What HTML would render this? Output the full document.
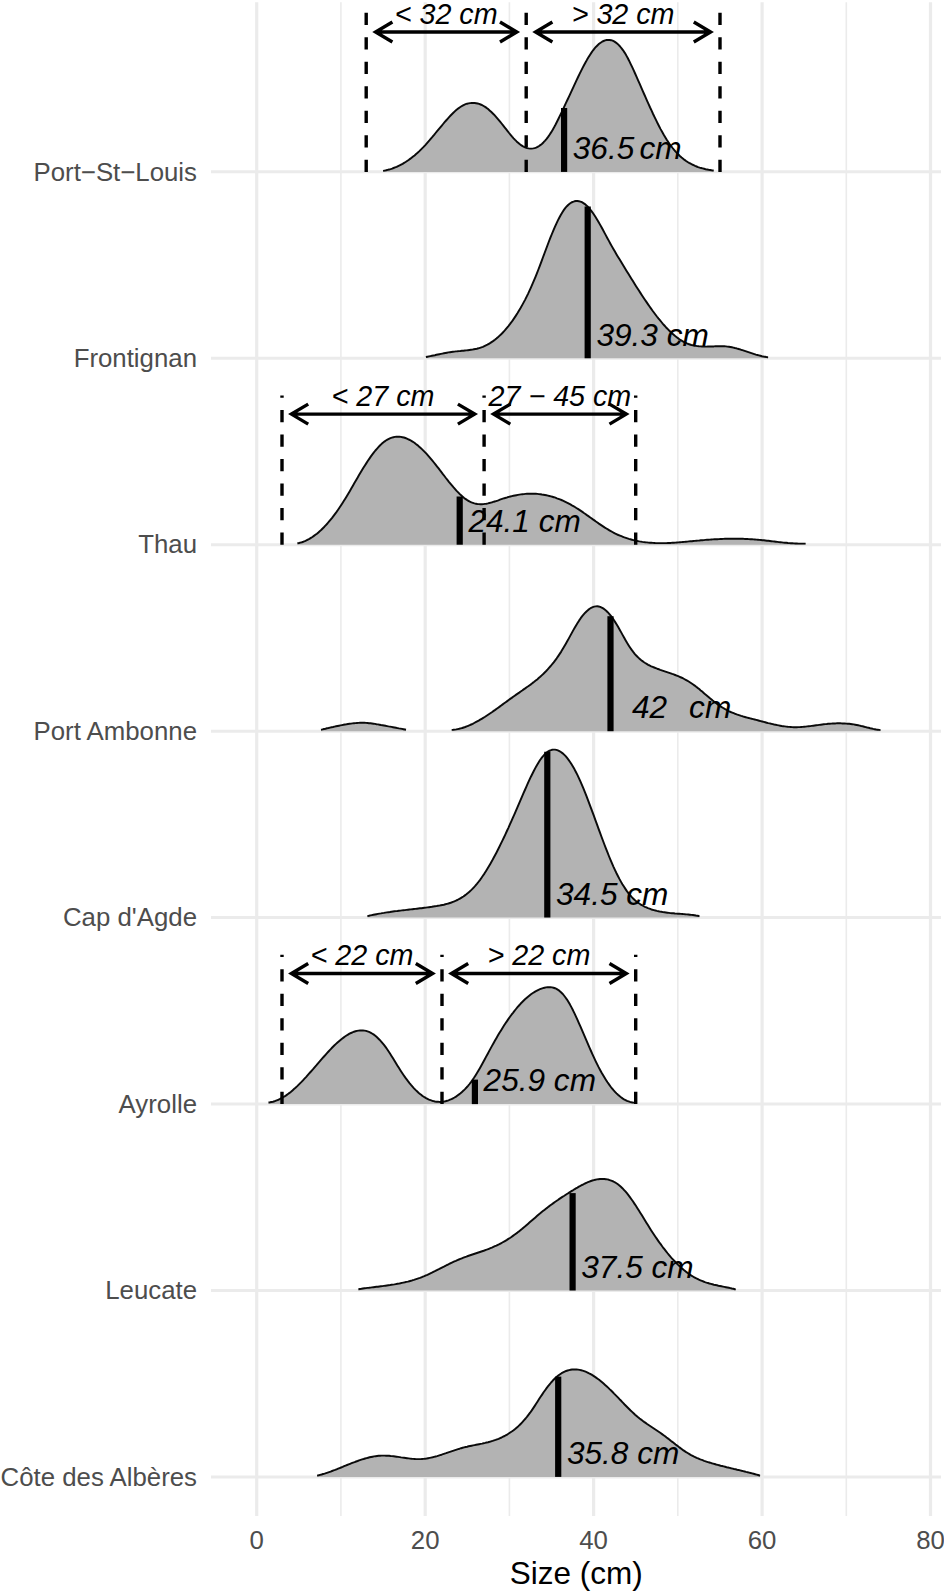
<!DOCTYPE html>
<html lang="en"><head><meta charset="utf-8"><title>Size distribution by site</title>
<style>html,body{margin:0;padding:0;background:#fff;overflow:hidden}svg{display:block}text{font-family:"Liberation Sans",sans-serif;white-space:pre}.ax{fill:#4d4d4d;font-size:25.8px}.it{font-style:italic;fill:#000}.lb{font-size:31.6px}.an{font-size:28.7px}</style></head><body>
<svg width="944" height="1595" viewBox="0 0 944 1595">
<rect width="944" height="1595" fill="#fff"/>
<g><line x1="340.9" x2="340.9" y1="2.2" y2="1516" stroke="#ebebeb" stroke-width="1.6"/><line x1="509.4" x2="509.4" y1="2.2" y2="1516" stroke="#ebebeb" stroke-width="1.6"/><line x1="677.8" x2="677.8" y1="2.2" y2="1516" stroke="#ebebeb" stroke-width="1.6"/><line x1="846.3" x2="846.3" y1="2.2" y2="1516" stroke="#ebebeb" stroke-width="1.6"/><line x1="256.7" x2="256.7" y1="2.2" y2="1516" stroke="#ebebeb" stroke-width="3.2"/><line x1="425.2" x2="425.2" y1="2.2" y2="1516" stroke="#ebebeb" stroke-width="3.2"/><line x1="593.6" x2="593.6" y1="2.2" y2="1516" stroke="#ebebeb" stroke-width="3.2"/><line x1="762.1" x2="762.1" y1="2.2" y2="1516" stroke="#ebebeb" stroke-width="3.2"/><line x1="930.5" x2="930.5" y1="2.2" y2="1516" stroke="#ebebeb" stroke-width="3.2"/><line x1="211" x2="941" y1="171.86" y2="171.86" stroke="#ebebeb" stroke-width="3"/><line x1="211" x2="941" y1="358.3" y2="358.3" stroke="#ebebeb" stroke-width="3"/><line x1="211" x2="941" y1="544.74" y2="544.74" stroke="#ebebeb" stroke-width="3"/><line x1="211" x2="941" y1="731.18" y2="731.18" stroke="#ebebeb" stroke-width="3"/><line x1="211" x2="941" y1="917.62" y2="917.62" stroke="#ebebeb" stroke-width="3"/><line x1="211" x2="941" y1="1104.06" y2="1104.06" stroke="#ebebeb" stroke-width="3"/><line x1="211" x2="941" y1="1290.5" y2="1290.5" stroke="#ebebeb" stroke-width="3"/><line x1="211" x2="941" y1="1476.94" y2="1476.94" stroke="#ebebeb" stroke-width="3"/></g>
<path d="M383.1 171.9L383.1 170.9L384.6 170.6L386.1 170.3L387.6 169.9L389.1 169.5L390.6 169.1L392.1 168.6L393.6 168.0L395.1 167.4L396.6 166.8L398.1 166.1L399.6 165.4L401.1 164.6L402.6 163.8L404.1 162.9L405.6 162.0L407.1 161.0L408.6 160.0L410.1 158.9L411.6 157.8L413.1 156.6L414.6 155.4L416.1 154.1L417.6 152.8L419.1 151.4L420.6 149.9L422.1 148.4L423.6 146.9L425.1 145.3L426.6 143.6L428.1 141.9L429.6 140.2L431.1 138.4L432.6 136.7L434.1 134.9L435.6 133.0L437.1 131.2L438.6 129.4L440.1 127.6L441.6 125.8L443.1 124.0L444.6 122.2L446.1 120.5L447.6 118.8L449.1 117.1L450.6 115.5L452.1 114.0L453.6 112.5L455.1 111.1L456.6 109.8L458.1 108.6L459.6 107.5L461.1 106.5L462.6 105.6L464.1 104.8L465.6 104.2L467.1 103.7L468.6 103.4L470.1 103.1L471.6 103.0L473.1 102.9L474.6 103.0L476.1 103.2L477.6 103.5L479.1 103.9L480.6 104.5L482.1 105.2L483.6 106.0L485.1 106.9L486.6 107.9L488.1 109.1L489.6 110.4L491.1 111.7L492.6 113.2L494.1 114.7L495.6 116.4L497.1 118.1L498.6 119.8L500.1 121.6L501.6 123.5L503.1 125.4L504.6 127.3L506.1 129.2L507.6 131.1L509.1 133.0L510.6 134.8L512.1 136.6L513.6 138.3L515.1 139.9L516.6 141.4L518.1 142.7L519.6 144.0L521.1 145.1L522.6 146.1L524.1 146.9L525.6 147.6L527.1 148.1L528.6 148.4L530.1 148.6L531.6 148.6L533.1 148.4L534.6 148.1L536.1 147.6L537.6 146.9L539.1 146.0L540.6 144.9L542.1 143.7L543.6 142.2L545.1 140.6L546.6 138.9L548.1 136.9L549.6 134.7L551.1 132.4L552.6 129.9L554.1 127.3L555.6 124.5L557.1 121.5L558.6 118.5L560.1 115.4L561.6 112.3L563.1 109.1L564.6 105.9L566.1 102.7L567.6 99.5L569.1 96.3L570.6 93.1L572.1 89.8L573.6 86.6L575.1 83.4L576.6 80.2L578.1 77.0L579.6 73.9L581.1 70.9L582.6 67.9L584.1 65.0L585.6 62.3L587.1 59.6L588.6 57.1L590.1 54.7L591.6 52.4L593.1 50.3L594.6 48.4L596.1 46.7L597.6 45.2L599.1 43.8L600.6 42.7L602.1 41.7L603.6 41.0L605.1 40.4L606.6 40.0L608.1 39.9L609.6 40.0L611.1 40.2L612.6 40.7L614.1 41.4L615.6 42.4L617.1 43.5L618.6 44.9L620.1 46.5L621.6 48.3L623.1 50.3L624.6 52.6L626.1 55.1L627.6 57.8L629.1 60.7L630.6 63.8L632.1 66.9L633.6 70.2L635.1 73.5L636.6 76.9L638.1 80.3L639.6 83.7L641.1 87.1L642.6 90.6L644.1 94.0L645.6 97.4L647.1 100.8L648.6 104.1L650.1 107.5L651.6 110.7L653.1 114.0L654.6 117.1L656.1 120.2L657.6 123.3L659.1 126.2L660.6 129.1L662.1 131.8L663.6 134.5L665.1 137.0L666.6 139.5L668.1 141.8L669.6 144.0L671.1 146.0L672.6 148.0L674.1 149.8L675.6 151.6L677.1 153.2L678.6 154.7L680.1 156.2L681.6 157.5L683.1 158.7L684.6 159.9L686.1 161.0L687.6 162.0L689.1 162.9L690.6 163.7L692.1 164.5L693.6 165.2L695.1 165.9L696.6 166.5L698.1 167.1L699.6 167.6L701.1 168.0L702.6 168.4L704.1 168.8L705.6 169.2L707.1 169.5L708.6 169.8L710.1 170.0L711.6 170.3L713.1 170.5L713.7 170.6L713.7 171.9Z" fill="#b3b3b3"/>
<path d="M383.1 170.9L384.6 170.6L386.1 170.3L387.6 169.9L389.1 169.5L390.6 169.1L392.1 168.6L393.6 168.0L395.1 167.4L396.6 166.8L398.1 166.1L399.6 165.4L401.1 164.6L402.6 163.8L404.1 162.9L405.6 162.0L407.1 161.0L408.6 160.0L410.1 158.9L411.6 157.8L413.1 156.6L414.6 155.4L416.1 154.1L417.6 152.8L419.1 151.4L420.6 149.9L422.1 148.4L423.6 146.9L425.1 145.3L426.6 143.6L428.1 141.9L429.6 140.2L431.1 138.4L432.6 136.7L434.1 134.9L435.6 133.0L437.1 131.2L438.6 129.4L440.1 127.6L441.6 125.8L443.1 124.0L444.6 122.2L446.1 120.5L447.6 118.8L449.1 117.1L450.6 115.5L452.1 114.0L453.6 112.5L455.1 111.1L456.6 109.8L458.1 108.6L459.6 107.5L461.1 106.5L462.6 105.6L464.1 104.8L465.6 104.2L467.1 103.7L468.6 103.4L470.1 103.1L471.6 103.0L473.1 102.9L474.6 103.0L476.1 103.2L477.6 103.5L479.1 103.9L480.6 104.5L482.1 105.2L483.6 106.0L485.1 106.9L486.6 107.9L488.1 109.1L489.6 110.4L491.1 111.7L492.6 113.2L494.1 114.7L495.6 116.4L497.1 118.1L498.6 119.8L500.1 121.6L501.6 123.5L503.1 125.4L504.6 127.3L506.1 129.2L507.6 131.1L509.1 133.0L510.6 134.8L512.1 136.6L513.6 138.3L515.1 139.9L516.6 141.4L518.1 142.7L519.6 144.0L521.1 145.1L522.6 146.1L524.1 146.9L525.6 147.6L527.1 148.1L528.6 148.4L530.1 148.6L531.6 148.6L533.1 148.4L534.6 148.1L536.1 147.6L537.6 146.9L539.1 146.0L540.6 144.9L542.1 143.7L543.6 142.2L545.1 140.6L546.6 138.9L548.1 136.9L549.6 134.7L551.1 132.4L552.6 129.9L554.1 127.3L555.6 124.5L557.1 121.5L558.6 118.5L560.1 115.4L561.6 112.3L563.1 109.1L564.6 105.9L566.1 102.7L567.6 99.5L569.1 96.3L570.6 93.1L572.1 89.8L573.6 86.6L575.1 83.4L576.6 80.2L578.1 77.0L579.6 73.9L581.1 70.9L582.6 67.9L584.1 65.0L585.6 62.3L587.1 59.6L588.6 57.1L590.1 54.7L591.6 52.4L593.1 50.3L594.6 48.4L596.1 46.7L597.6 45.2L599.1 43.8L600.6 42.7L602.1 41.7L603.6 41.0L605.1 40.4L606.6 40.0L608.1 39.9L609.6 40.0L611.1 40.2L612.6 40.7L614.1 41.4L615.6 42.4L617.1 43.5L618.6 44.9L620.1 46.5L621.6 48.3L623.1 50.3L624.6 52.6L626.1 55.1L627.6 57.8L629.1 60.7L630.6 63.8L632.1 66.9L633.6 70.2L635.1 73.5L636.6 76.9L638.1 80.3L639.6 83.7L641.1 87.1L642.6 90.6L644.1 94.0L645.6 97.4L647.1 100.8L648.6 104.1L650.1 107.5L651.6 110.7L653.1 114.0L654.6 117.1L656.1 120.2L657.6 123.3L659.1 126.2L660.6 129.1L662.1 131.8L663.6 134.5L665.1 137.0L666.6 139.5L668.1 141.8L669.6 144.0L671.1 146.0L672.6 148.0L674.1 149.8L675.6 151.6L677.1 153.2L678.6 154.7L680.1 156.2L681.6 157.5L683.1 158.7L684.6 159.9L686.1 161.0L687.6 162.0L689.1 162.9L690.6 163.7L692.1 164.5L693.6 165.2L695.1 165.9L696.6 166.5L698.1 167.1L699.6 167.6L701.1 168.0L702.6 168.4L704.1 168.8L705.6 169.2L707.1 169.5L708.6 169.8L710.1 170.0L711.6 170.3L713.1 170.5L713.7 170.6" fill="none" stroke="#0a0a0a" stroke-width="1.95" stroke-linejoin="round"/>
<line x1="564.1" x2="564.1" y1="108.0" y2="171.9" stroke="#000" stroke-width="6.2"/>
<text class="it lb" x="572.8" y="159.1" xml:space="preserve">36.5 <tspan dx="-3.7">cm</tspan></text>
<line x1="366.2" x2="366.2" y1="171.9" y2="12.7" stroke="#000" stroke-width="3.4" stroke-dasharray="12.25 12.25"/>
<line x1="526.2" x2="526.2" y1="171.9" y2="12.7" stroke="#000" stroke-width="3.4" stroke-dasharray="12.25 12.25"/>
<line x1="720.0" x2="720.0" y1="171.9" y2="12.7" stroke="#000" stroke-width="3.4" stroke-dasharray="12.25 12.25"/>
<path d="M392.4 22.0L375.6 32.0L392.4 42.0M375.6 32.0L516.8 32.0M500.0 22.0L516.8 32.0L500.0 42.0" fill="none" stroke="#000" stroke-width="3.4" stroke-linejoin="miter" stroke-miterlimit="10"/>
<text class="it an" x="446.2" y="23.8" text-anchor="middle">&lt; 32 cm</text>
<path d="M552.4 22.0L535.6 32.0L552.4 42.0M535.6 32.0L710.6 32.0M693.8 22.0L710.6 32.0L693.8 42.0" fill="none" stroke="#000" stroke-width="3.4" stroke-linejoin="miter" stroke-miterlimit="10"/>
<text class="it an" x="623.1" y="23.8" text-anchor="middle">&gt; 32 cm</text>
<path d="M425.9 358.3L425.9 357.0L427.4 356.7L428.9 356.4L430.4 356.1L431.9 355.8L433.4 355.5L434.9 355.2L436.4 354.8L437.9 354.5L439.4 354.2L440.9 353.9L442.4 353.6L443.9 353.3L445.4 353.0L446.9 352.7L448.4 352.4L449.9 352.2L451.4 352.0L452.9 351.8L454.4 351.6L455.9 351.4L457.4 351.3L458.9 351.1L460.4 351.0L461.9 350.8L463.4 350.7L464.9 350.5L466.4 350.4L467.9 350.2L469.4 350.0L470.9 349.8L472.4 349.6L473.9 349.3L475.4 349.0L476.9 348.7L478.4 348.3L479.9 347.8L481.4 347.3L482.9 346.8L484.4 346.1L485.9 345.4L487.4 344.7L488.9 343.8L490.4 342.9L491.9 341.9L493.4 340.9L494.9 339.8L496.4 338.6L497.9 337.3L499.4 335.9L500.9 334.5L502.4 333.0L503.9 331.4L505.4 329.7L506.9 327.9L508.4 326.1L509.9 324.2L511.4 322.2L512.9 320.1L514.4 317.9L515.9 315.6L517.4 313.3L518.9 310.8L520.4 308.3L521.9 305.6L523.4 302.9L524.9 300.1L526.4 297.1L527.9 294.1L529.4 290.9L530.9 287.6L532.4 284.2L533.9 280.7L535.4 277.1L536.9 273.4L538.4 269.5L539.9 265.6L541.4 261.6L542.9 257.5L544.4 253.5L545.9 249.5L547.4 245.5L548.9 241.5L550.4 237.7L551.9 234.0L553.4 230.4L554.9 226.9L556.4 223.6L557.9 220.4L559.4 217.5L560.9 214.7L562.4 212.2L563.9 209.9L565.4 207.9L566.9 206.2L568.4 204.7L569.9 203.5L571.4 202.5L572.9 201.8L574.4 201.3L575.9 201.0L577.4 201.0L578.9 201.2L580.4 201.6L581.9 202.2L583.4 203.1L584.9 204.1L586.4 205.4L587.9 206.8L589.4 208.5L590.9 210.3L592.4 212.3L593.9 214.5L595.4 216.8L596.9 219.2L598.4 221.7L599.9 224.4L601.4 227.0L602.9 229.8L604.4 232.6L605.9 235.4L607.4 238.2L608.9 240.9L610.4 243.7L611.9 246.4L613.4 249.0L614.9 251.6L616.4 254.2L617.9 256.7L619.4 259.1L620.9 261.6L622.4 264.0L623.9 266.5L625.4 268.9L626.9 271.4L628.4 273.8L629.9 276.3L631.4 278.7L632.9 281.1L634.4 283.5L635.9 285.9L637.4 288.2L638.9 290.6L640.4 292.9L641.9 295.2L643.4 297.5L644.9 299.7L646.4 301.9L647.9 304.1L649.4 306.3L650.9 308.4L652.4 310.5L653.9 312.5L655.4 314.5L656.9 316.5L658.4 318.4L659.9 320.2L661.4 322.0L662.9 323.8L664.4 325.5L665.9 327.2L667.4 328.7L668.9 330.3L670.4 331.8L671.9 333.2L673.4 334.5L674.9 335.8L676.4 337.0L677.9 338.1L679.4 339.2L680.9 340.2L682.4 341.1L683.9 342.0L685.4 342.7L686.9 343.4L688.4 344.0L689.9 344.5L691.4 345.0L692.9 345.3L694.4 345.7L695.9 345.9L697.4 346.1L698.9 346.3L700.4 346.4L701.9 346.5L703.4 346.6L704.9 346.6L706.4 346.6L707.9 346.5L709.4 346.5L710.9 346.5L712.4 346.4L713.9 346.4L715.4 346.3L716.9 346.3L718.4 346.2L719.9 346.2L721.4 346.2L722.9 346.3L724.4 346.3L725.9 346.4L727.4 346.6L728.9 346.8L730.4 347.0L731.9 347.3L733.4 347.6L734.9 348.0L736.4 348.3L737.9 348.8L739.4 349.2L740.9 349.7L742.4 350.1L743.9 350.6L745.4 351.1L746.9 351.6L748.4 352.1L749.9 352.6L751.4 353.1L752.9 353.6L754.4 354.1L755.9 354.6L757.4 355.0L758.9 355.4L760.4 355.8L761.9 356.2L763.4 356.5L764.9 356.7L766.4 357.0L767.9 357.2L768.1 357.2L768.1 358.3Z" fill="#b3b3b3"/>
<path d="M425.9 357.0L427.4 356.7L428.9 356.4L430.4 356.1L431.9 355.8L433.4 355.5L434.9 355.2L436.4 354.8L437.9 354.5L439.4 354.2L440.9 353.9L442.4 353.6L443.9 353.3L445.4 353.0L446.9 352.7L448.4 352.4L449.9 352.2L451.4 352.0L452.9 351.8L454.4 351.6L455.9 351.4L457.4 351.3L458.9 351.1L460.4 351.0L461.9 350.8L463.4 350.7L464.9 350.5L466.4 350.4L467.9 350.2L469.4 350.0L470.9 349.8L472.4 349.6L473.9 349.3L475.4 349.0L476.9 348.7L478.4 348.3L479.9 347.8L481.4 347.3L482.9 346.8L484.4 346.1L485.9 345.4L487.4 344.7L488.9 343.8L490.4 342.9L491.9 341.9L493.4 340.9L494.9 339.8L496.4 338.6L497.9 337.3L499.4 335.9L500.9 334.5L502.4 333.0L503.9 331.4L505.4 329.7L506.9 327.9L508.4 326.1L509.9 324.2L511.4 322.2L512.9 320.1L514.4 317.9L515.9 315.6L517.4 313.3L518.9 310.8L520.4 308.3L521.9 305.6L523.4 302.9L524.9 300.1L526.4 297.1L527.9 294.1L529.4 290.9L530.9 287.6L532.4 284.2L533.9 280.7L535.4 277.1L536.9 273.4L538.4 269.5L539.9 265.6L541.4 261.6L542.9 257.5L544.4 253.5L545.9 249.5L547.4 245.5L548.9 241.5L550.4 237.7L551.9 234.0L553.4 230.4L554.9 226.9L556.4 223.6L557.9 220.4L559.4 217.5L560.9 214.7L562.4 212.2L563.9 209.9L565.4 207.9L566.9 206.2L568.4 204.7L569.9 203.5L571.4 202.5L572.9 201.8L574.4 201.3L575.9 201.0L577.4 201.0L578.9 201.2L580.4 201.6L581.9 202.2L583.4 203.1L584.9 204.1L586.4 205.4L587.9 206.8L589.4 208.5L590.9 210.3L592.4 212.3L593.9 214.5L595.4 216.8L596.9 219.2L598.4 221.7L599.9 224.4L601.4 227.0L602.9 229.8L604.4 232.6L605.9 235.4L607.4 238.2L608.9 240.9L610.4 243.7L611.9 246.4L613.4 249.0L614.9 251.6L616.4 254.2L617.9 256.7L619.4 259.1L620.9 261.6L622.4 264.0L623.9 266.5L625.4 268.9L626.9 271.4L628.4 273.8L629.9 276.3L631.4 278.7L632.9 281.1L634.4 283.5L635.9 285.9L637.4 288.2L638.9 290.6L640.4 292.9L641.9 295.2L643.4 297.5L644.9 299.7L646.4 301.9L647.9 304.1L649.4 306.3L650.9 308.4L652.4 310.5L653.9 312.5L655.4 314.5L656.9 316.5L658.4 318.4L659.9 320.2L661.4 322.0L662.9 323.8L664.4 325.5L665.9 327.2L667.4 328.7L668.9 330.3L670.4 331.8L671.9 333.2L673.4 334.5L674.9 335.8L676.4 337.0L677.9 338.1L679.4 339.2L680.9 340.2L682.4 341.1L683.9 342.0L685.4 342.7L686.9 343.4L688.4 344.0L689.9 344.5L691.4 345.0L692.9 345.3L694.4 345.7L695.9 345.9L697.4 346.1L698.9 346.3L700.4 346.4L701.9 346.5L703.4 346.6L704.9 346.6L706.4 346.6L707.9 346.5L709.4 346.5L710.9 346.5L712.4 346.4L713.9 346.4L715.4 346.3L716.9 346.3L718.4 346.2L719.9 346.2L721.4 346.2L722.9 346.3L724.4 346.3L725.9 346.4L727.4 346.6L728.9 346.8L730.4 347.0L731.9 347.3L733.4 347.6L734.9 348.0L736.4 348.3L737.9 348.8L739.4 349.2L740.9 349.7L742.4 350.1L743.9 350.6L745.4 351.1L746.9 351.6L748.4 352.1L749.9 352.6L751.4 353.1L752.9 353.6L754.4 354.1L755.9 354.6L757.4 355.0L758.9 355.4L760.4 355.8L761.9 356.2L763.4 356.5L764.9 356.7L766.4 357.0L767.9 357.2L768.1 357.2" fill="none" stroke="#0a0a0a" stroke-width="1.95" stroke-linejoin="round"/>
<line x1="587.7" x2="587.7" y1="206.5" y2="358.3" stroke="#000" stroke-width="6.2"/>
<text class="it lb" x="596.4" y="345.5" xml:space="preserve">39.3 cm</text>
<path d="M297.4 544.7L297.4 543.3L298.9 543.0L300.4 542.6L301.9 542.2L303.4 541.7L304.9 541.1L306.4 540.4L307.9 539.6L309.4 538.8L310.9 537.9L312.4 537.0L313.9 535.9L315.4 534.8L316.9 533.7L318.4 532.4L319.9 531.1L321.4 529.7L322.9 528.2L324.4 526.7L325.9 525.1L327.4 523.5L328.9 521.7L330.4 519.9L331.9 518.1L333.4 516.1L334.9 514.1L336.4 512.1L337.9 510.0L339.4 507.8L340.9 505.5L342.4 503.2L343.9 500.8L345.4 498.4L346.9 495.9L348.4 493.4L349.9 490.9L351.4 488.3L352.9 485.7L354.4 483.1L355.9 480.5L357.4 477.9L358.9 475.3L360.4 472.8L361.9 470.3L363.4 467.8L364.9 465.4L366.4 463.1L367.9 460.8L369.4 458.6L370.9 456.4L372.4 454.4L373.9 452.4L375.4 450.5L376.9 448.8L378.4 447.1L379.9 445.5L381.4 444.1L382.9 442.8L384.4 441.6L385.9 440.5L387.4 439.6L388.9 438.8L390.4 438.1L391.9 437.6L393.4 437.2L394.9 436.9L396.4 436.7L397.9 436.7L399.4 436.7L400.9 436.9L402.4 437.2L403.9 437.5L405.4 438.0L406.9 438.6L408.4 439.3L409.9 440.0L411.4 440.9L412.9 441.8L414.4 442.8L415.9 444.0L417.4 445.1L418.9 446.4L420.4 447.7L421.9 449.1L423.4 450.6L424.9 452.1L426.4 453.7L427.9 455.4L429.4 457.1L430.9 458.9L432.4 460.7L433.9 462.5L435.4 464.4L436.9 466.3L438.4 468.2L439.9 470.2L441.4 472.1L442.9 474.1L444.4 476.0L445.9 478.0L447.4 479.9L448.9 481.8L450.4 483.6L451.9 485.4L453.4 487.2L454.9 488.9L456.4 490.6L457.9 492.1L459.4 493.7L460.9 495.1L462.4 496.4L463.9 497.7L465.4 498.9L466.9 499.9L468.4 500.8L469.9 501.7L471.4 502.4L472.9 502.9L474.4 503.4L475.9 503.7L477.4 504.0L478.9 504.1L480.4 504.2L481.9 504.2L483.4 504.1L484.9 503.9L486.4 503.7L487.9 503.4L489.4 503.0L490.9 502.6L492.4 502.2L493.9 501.7L495.4 501.3L496.9 500.8L498.4 500.3L499.9 499.7L501.4 499.2L502.9 498.7L504.4 498.2L505.9 497.8L507.4 497.3L508.9 496.9L510.4 496.5L511.9 496.1L513.4 495.8L514.9 495.5L516.4 495.2L517.9 494.9L519.4 494.6L520.9 494.4L522.4 494.2L523.9 494.1L525.4 493.9L526.9 493.8L528.4 493.7L529.9 493.7L531.4 493.7L532.9 493.7L534.4 493.7L535.9 493.8L537.4 493.9L538.9 494.1L540.4 494.2L541.9 494.5L543.4 494.7L544.9 495.0L546.4 495.3L547.9 495.6L549.4 496.0L550.9 496.4L552.4 496.8L553.9 497.2L555.4 497.7L556.9 498.3L558.4 498.8L559.9 499.4L561.4 500.0L562.9 500.7L564.4 501.4L565.9 502.1L567.4 502.8L568.9 503.6L570.4 504.4L571.9 505.3L573.4 506.1L574.9 507.0L576.4 508.0L577.9 508.9L579.4 509.9L580.9 510.9L582.4 511.9L583.9 513.0L585.4 514.0L586.9 515.1L588.4 516.1L589.9 517.2L591.4 518.3L592.9 519.4L594.4 520.4L595.9 521.5L597.4 522.5L598.9 523.6L600.4 524.6L601.9 525.6L603.4 526.6L604.9 527.6L606.4 528.5L607.9 529.4L609.4 530.3L610.9 531.2L612.4 532.0L613.9 532.8L615.4 533.6L616.9 534.3L618.4 535.0L619.9 535.6L621.4 536.2L622.9 536.8L624.4 537.4L625.9 537.9L627.4 538.4L628.9 538.9L630.4 539.3L631.9 539.7L633.4 540.1L634.9 540.5L636.4 540.8L637.9 541.1L639.4 541.4L640.9 541.6L642.4 541.9L643.9 542.1L645.4 542.3L646.9 542.4L648.4 542.6L649.9 542.7L651.4 542.8L652.9 542.9L654.4 543.0L655.9 543.1L657.4 543.1L658.9 543.1L660.4 543.1L661.9 543.1L663.4 543.1L664.9 543.1L666.4 543.1L667.9 543.0L669.4 542.9L670.9 542.9L672.4 542.8L673.9 542.7L675.4 542.6L676.9 542.5L678.4 542.4L679.9 542.2L681.4 542.1L682.9 542.0L684.4 541.9L685.9 541.7L687.4 541.6L688.9 541.4L690.4 541.3L691.9 541.2L693.4 541.0L694.9 540.9L696.4 540.7L697.9 540.6L699.4 540.5L700.9 540.3L702.4 540.2L703.9 540.1L705.4 539.9L706.9 539.8L708.4 539.7L709.9 539.6L711.4 539.5L712.9 539.4L714.4 539.3L715.9 539.2L717.4 539.2L718.9 539.1L720.4 539.0L721.9 539.0L723.4 538.9L724.9 538.8L726.4 538.8L727.9 538.8L729.4 538.7L730.9 538.7L732.4 538.7L733.9 538.7L735.4 538.7L736.9 538.7L738.4 538.7L739.9 538.7L741.4 538.8L742.9 538.8L744.4 538.9L745.9 538.9L747.4 539.0L748.9 539.1L750.4 539.2L751.9 539.2L753.4 539.4L754.9 539.5L756.4 539.6L757.9 539.7L759.4 539.9L760.9 540.0L762.4 540.2L763.9 540.3L765.4 540.5L766.9 540.7L768.4 540.8L769.9 541.0L771.4 541.2L772.9 541.4L774.4 541.5L775.9 541.7L777.4 541.9L778.9 542.1L780.4 542.2L781.9 542.4L783.4 542.6L784.9 542.7L786.4 542.8L787.9 543.0L789.4 543.1L790.9 543.2L792.4 543.3L793.9 543.4L795.4 543.5L796.9 543.5L798.4 543.6L799.9 543.6L801.4 543.6L802.9 543.6L804.4 543.6L805.6 543.6L805.6 544.7Z" fill="#b3b3b3"/>
<path d="M297.4 543.3L298.9 543.0L300.4 542.6L301.9 542.2L303.4 541.7L304.9 541.1L306.4 540.4L307.9 539.6L309.4 538.8L310.9 537.9L312.4 537.0L313.9 535.9L315.4 534.8L316.9 533.7L318.4 532.4L319.9 531.1L321.4 529.7L322.9 528.2L324.4 526.7L325.9 525.1L327.4 523.5L328.9 521.7L330.4 519.9L331.9 518.1L333.4 516.1L334.9 514.1L336.4 512.1L337.9 510.0L339.4 507.8L340.9 505.5L342.4 503.2L343.9 500.8L345.4 498.4L346.9 495.9L348.4 493.4L349.9 490.9L351.4 488.3L352.9 485.7L354.4 483.1L355.9 480.5L357.4 477.9L358.9 475.3L360.4 472.8L361.9 470.3L363.4 467.8L364.9 465.4L366.4 463.1L367.9 460.8L369.4 458.6L370.9 456.4L372.4 454.4L373.9 452.4L375.4 450.5L376.9 448.8L378.4 447.1L379.9 445.5L381.4 444.1L382.9 442.8L384.4 441.6L385.9 440.5L387.4 439.6L388.9 438.8L390.4 438.1L391.9 437.6L393.4 437.2L394.9 436.9L396.4 436.7L397.9 436.7L399.4 436.7L400.9 436.9L402.4 437.2L403.9 437.5L405.4 438.0L406.9 438.6L408.4 439.3L409.9 440.0L411.4 440.9L412.9 441.8L414.4 442.8L415.9 444.0L417.4 445.1L418.9 446.4L420.4 447.7L421.9 449.1L423.4 450.6L424.9 452.1L426.4 453.7L427.9 455.4L429.4 457.1L430.9 458.9L432.4 460.7L433.9 462.5L435.4 464.4L436.9 466.3L438.4 468.2L439.9 470.2L441.4 472.1L442.9 474.1L444.4 476.0L445.9 478.0L447.4 479.9L448.9 481.8L450.4 483.6L451.9 485.4L453.4 487.2L454.9 488.9L456.4 490.6L457.9 492.1L459.4 493.7L460.9 495.1L462.4 496.4L463.9 497.7L465.4 498.9L466.9 499.9L468.4 500.8L469.9 501.7L471.4 502.4L472.9 502.9L474.4 503.4L475.9 503.7L477.4 504.0L478.9 504.1L480.4 504.2L481.9 504.2L483.4 504.1L484.9 503.9L486.4 503.7L487.9 503.4L489.4 503.0L490.9 502.6L492.4 502.2L493.9 501.7L495.4 501.3L496.9 500.8L498.4 500.3L499.9 499.7L501.4 499.2L502.9 498.7L504.4 498.2L505.9 497.8L507.4 497.3L508.9 496.9L510.4 496.5L511.9 496.1L513.4 495.8L514.9 495.5L516.4 495.2L517.9 494.9L519.4 494.6L520.9 494.4L522.4 494.2L523.9 494.1L525.4 493.9L526.9 493.8L528.4 493.7L529.9 493.7L531.4 493.7L532.9 493.7L534.4 493.7L535.9 493.8L537.4 493.9L538.9 494.1L540.4 494.2L541.9 494.5L543.4 494.7L544.9 495.0L546.4 495.3L547.9 495.6L549.4 496.0L550.9 496.4L552.4 496.8L553.9 497.2L555.4 497.7L556.9 498.3L558.4 498.8L559.9 499.4L561.4 500.0L562.9 500.7L564.4 501.4L565.9 502.1L567.4 502.8L568.9 503.6L570.4 504.4L571.9 505.3L573.4 506.1L574.9 507.0L576.4 508.0L577.9 508.9L579.4 509.9L580.9 510.9L582.4 511.9L583.9 513.0L585.4 514.0L586.9 515.1L588.4 516.1L589.9 517.2L591.4 518.3L592.9 519.4L594.4 520.4L595.9 521.5L597.4 522.5L598.9 523.6L600.4 524.6L601.9 525.6L603.4 526.6L604.9 527.6L606.4 528.5L607.9 529.4L609.4 530.3L610.9 531.2L612.4 532.0L613.9 532.8L615.4 533.6L616.9 534.3L618.4 535.0L619.9 535.6L621.4 536.2L622.9 536.8L624.4 537.4L625.9 537.9L627.4 538.4L628.9 538.9L630.4 539.3L631.9 539.7L633.4 540.1L634.9 540.5L636.4 540.8L637.9 541.1L639.4 541.4L640.9 541.6L642.4 541.9L643.9 542.1L645.4 542.3L646.9 542.4L648.4 542.6L649.9 542.7L651.4 542.8L652.9 542.9L654.4 543.0L655.9 543.1L657.4 543.1L658.9 543.1L660.4 543.1L661.9 543.1L663.4 543.1L664.9 543.1L666.4 543.1L667.9 543.0L669.4 542.9L670.9 542.9L672.4 542.8L673.9 542.7L675.4 542.6L676.9 542.5L678.4 542.4L679.9 542.2L681.4 542.1L682.9 542.0L684.4 541.9L685.9 541.7L687.4 541.6L688.9 541.4L690.4 541.3L691.9 541.2L693.4 541.0L694.9 540.9L696.4 540.7L697.9 540.6L699.4 540.5L700.9 540.3L702.4 540.2L703.9 540.1L705.4 539.9L706.9 539.8L708.4 539.7L709.9 539.6L711.4 539.5L712.9 539.4L714.4 539.3L715.9 539.2L717.4 539.2L718.9 539.1L720.4 539.0L721.9 539.0L723.4 538.9L724.9 538.8L726.4 538.8L727.9 538.8L729.4 538.7L730.9 538.7L732.4 538.7L733.9 538.7L735.4 538.7L736.9 538.7L738.4 538.7L739.9 538.7L741.4 538.8L742.9 538.8L744.4 538.9L745.9 538.9L747.4 539.0L748.9 539.1L750.4 539.2L751.9 539.2L753.4 539.4L754.9 539.5L756.4 539.6L757.9 539.7L759.4 539.9L760.9 540.0L762.4 540.2L763.9 540.3L765.4 540.5L766.9 540.7L768.4 540.8L769.9 541.0L771.4 541.2L772.9 541.4L774.4 541.5L775.9 541.7L777.4 541.9L778.9 542.1L780.4 542.2L781.9 542.4L783.4 542.6L784.9 542.7L786.4 542.8L787.9 543.0L789.4 543.1L790.9 543.2L792.4 543.3L793.9 543.4L795.4 543.5L796.9 543.5L798.4 543.6L799.9 543.6L801.4 543.6L802.9 543.6L804.4 543.6L805.6 543.6" fill="none" stroke="#0a0a0a" stroke-width="1.95" stroke-linejoin="round"/>
<line x1="459.7" x2="459.7" y1="496.5" y2="544.7" stroke="#000" stroke-width="6.2"/>
<text class="it lb" x="468.4" y="531.9" xml:space="preserve">24.1 cm</text>
<line x1="282.0" x2="282.0" y1="544.7" y2="395.4" stroke="#000" stroke-width="3.4" stroke-dasharray="12.25 12.25"/>
<line x1="484.1" x2="484.1" y1="544.7" y2="395.4" stroke="#000" stroke-width="3.4" stroke-dasharray="12.25 12.25"/>
<line x1="635.7" x2="635.7" y1="544.7" y2="395.4" stroke="#000" stroke-width="3.4" stroke-dasharray="12.25 12.25"/>
<path d="M308.2 404.1L291.4 414.1L308.2 424.1M291.4 414.1L474.7 414.1M457.9 404.1L474.7 414.1L457.9 424.1" fill="none" stroke="#000" stroke-width="3.4" stroke-linejoin="miter" stroke-miterlimit="10"/>
<text class="it an" x="383.0" y="405.5" text-anchor="middle">&lt; 27 cm</text>
<path d="M510.3 404.1L493.5 414.1L510.3 424.1M493.5 414.1L626.3 414.1M609.5 404.1L626.3 414.1L609.5 424.1" fill="none" stroke="#000" stroke-width="3.4" stroke-linejoin="miter" stroke-miterlimit="10"/>
<text class="it an" x="559.9" y="405.5" text-anchor="middle">27 − 45 cm</text>
<path d="M321.0 731.2L321.0 729.7L322.5 729.4L324.0 729.0L325.5 728.7L327.0 728.3L328.5 728.0L330.0 727.6L331.5 727.3L333.0 727.0L334.5 726.6L336.0 726.3L337.5 726.0L339.0 725.7L340.5 725.4L342.0 725.1L343.5 724.8L345.0 724.5L346.5 724.3L348.0 724.0L349.5 723.8L351.0 723.6L352.5 723.4L354.0 723.2L355.5 723.1L357.0 723.0L358.5 722.9L360.0 722.8L361.5 722.8L363.0 722.8L364.5 722.8L366.0 722.9L367.5 723.0L369.0 723.2L370.5 723.3L372.0 723.5L373.5 723.7L375.0 723.9L376.5 724.2L378.0 724.4L379.5 724.7L381.0 725.0L382.5 725.2L384.0 725.5L385.5 725.8L387.0 726.1L388.5 726.4L390.0 726.6L391.5 726.9L393.0 727.2L394.5 727.5L396.0 727.8L397.5 728.1L399.0 728.4L400.5 728.6L402.0 728.9L403.5 729.2L405.0 729.5L406.0 729.7L406.0 731.2Z" fill="#b3b3b3"/>
<path d="M321.0 729.7L322.5 729.4L324.0 729.0L325.5 728.7L327.0 728.3L328.5 728.0L330.0 727.6L331.5 727.3L333.0 727.0L334.5 726.6L336.0 726.3L337.5 726.0L339.0 725.7L340.5 725.4L342.0 725.1L343.5 724.8L345.0 724.5L346.5 724.3L348.0 724.0L349.5 723.8L351.0 723.6L352.5 723.4L354.0 723.2L355.5 723.1L357.0 723.0L358.5 722.9L360.0 722.8L361.5 722.8L363.0 722.8L364.5 722.8L366.0 722.9L367.5 723.0L369.0 723.2L370.5 723.3L372.0 723.5L373.5 723.7L375.0 723.9L376.5 724.2L378.0 724.4L379.5 724.7L381.0 725.0L382.5 725.2L384.0 725.5L385.5 725.8L387.0 726.1L388.5 726.4L390.0 726.6L391.5 726.9L393.0 727.2L394.5 727.5L396.0 727.8L397.5 728.1L399.0 728.4L400.5 728.6L402.0 728.9L403.5 729.2L405.0 729.5L406.0 729.7" fill="none" stroke="#0a0a0a" stroke-width="1.95" stroke-linejoin="round"/>
<path d="M451.7 731.2L451.7 729.9L453.2 729.8L454.7 729.6L456.2 729.4L457.7 729.1L459.2 728.8L460.7 728.4L462.2 728.0L463.7 727.5L465.2 727.0L466.7 726.4L468.2 725.8L469.7 725.2L471.2 724.5L472.7 723.8L474.2 723.0L475.7 722.2L477.2 721.4L478.7 720.6L480.2 719.7L481.7 718.8L483.2 717.9L484.7 717.0L486.2 716.0L487.7 715.0L489.2 714.0L490.7 713.0L492.2 712.0L493.7 710.9L495.2 709.9L496.7 708.8L498.2 707.7L499.7 706.6L501.2 705.5L502.7 704.4L504.2 703.3L505.7 702.2L507.2 701.1L508.7 700.0L510.2 698.9L511.7 697.9L513.2 696.8L514.7 695.7L516.2 694.6L517.7 693.6L519.2 692.6L520.7 691.5L522.2 690.5L523.7 689.4L525.2 688.4L526.7 687.3L528.2 686.3L529.7 685.2L531.2 684.1L532.7 682.9L534.2 681.8L535.7 680.6L537.2 679.4L538.7 678.1L540.2 676.8L541.7 675.4L543.2 674.0L544.7 672.5L546.2 671.0L547.7 669.4L549.2 667.7L550.7 666.0L552.2 664.2L553.7 662.3L555.2 660.3L556.7 658.3L558.2 656.1L559.7 653.9L561.2 651.6L562.7 649.1L564.2 646.6L565.7 644.0L567.2 641.3L568.7 638.6L570.2 635.9L571.7 633.1L573.2 630.4L574.7 627.8L576.2 625.2L577.7 622.8L579.2 620.4L580.7 618.2L582.2 616.2L583.7 614.4L585.2 612.7L586.7 611.2L588.2 609.9L589.7 608.8L591.2 607.8L592.7 607.1L594.2 606.6L595.7 606.4L597.2 606.3L598.7 606.5L600.2 606.9L601.7 607.6L603.2 608.4L604.7 609.5L606.2 610.7L607.7 612.2L609.2 613.8L610.7 615.6L612.2 617.6L613.7 619.8L615.2 622.1L616.7 624.5L618.2 627.1L619.7 629.7L621.2 632.4L622.7 635.1L624.2 637.8L625.7 640.4L627.2 643.0L628.7 645.4L630.2 647.7L631.7 649.9L633.2 651.9L634.7 653.8L636.2 655.5L637.7 657.0L639.2 658.4L640.7 659.7L642.2 660.9L643.7 662.0L645.2 663.0L646.7 663.9L648.2 664.8L649.7 665.5L651.2 666.3L652.7 666.9L654.2 667.5L655.7 668.1L657.2 668.7L658.7 669.2L660.2 669.8L661.7 670.3L663.2 670.8L664.7 671.3L666.2 671.8L667.7 672.3L669.2 672.8L670.7 673.3L672.2 673.9L673.7 674.4L675.2 675.0L676.7 675.6L678.2 676.2L679.7 676.8L681.2 677.5L682.7 678.2L684.2 679.0L685.7 679.8L687.2 680.6L688.7 681.5L690.2 682.5L691.7 683.5L693.2 684.5L694.7 685.6L696.2 686.8L697.7 687.9L699.2 689.1L700.7 690.4L702.2 691.6L703.7 692.9L705.2 694.2L706.7 695.4L708.2 696.7L709.7 698.0L711.2 699.2L712.7 700.5L714.2 701.7L715.7 702.8L717.2 704.0L718.7 705.1L720.2 706.1L721.7 707.1L723.2 708.0L724.7 708.9L726.2 709.7L727.7 710.5L729.2 711.3L730.7 712.0L732.2 712.6L733.7 713.2L735.2 713.8L736.7 714.4L738.2 714.9L739.7 715.4L741.2 715.9L742.7 716.3L744.2 716.8L745.7 717.2L747.2 717.6L748.7 718.0L750.2 718.4L751.7 718.8L753.2 719.1L754.7 719.5L756.2 719.9L757.7 720.3L759.2 720.7L760.7 721.1L762.2 721.5L763.7 721.9L765.2 722.3L766.7 722.7L768.2 723.1L769.7 723.4L771.2 723.8L772.7 724.1L774.2 724.5L775.7 724.8L777.2 725.1L778.7 725.4L780.2 725.7L781.7 726.0L783.2 726.2L784.7 726.4L786.2 726.6L787.7 726.8L789.2 726.9L790.7 727.0L792.2 727.1L793.7 727.2L795.2 727.2L796.7 727.2L798.2 727.1L799.7 727.1L801.2 727.0L802.7 726.9L804.2 726.7L805.7 726.6L807.2 726.4L808.7 726.2L810.2 726.1L811.7 725.9L813.2 725.7L814.7 725.5L816.2 725.3L817.7 725.1L819.2 724.9L820.7 724.7L822.2 724.5L823.7 724.3L825.2 724.1L826.7 724.0L828.2 723.8L829.7 723.7L831.2 723.6L832.7 723.5L834.2 723.4L835.7 723.4L837.2 723.3L838.7 723.3L840.2 723.3L841.7 723.4L843.2 723.4L844.7 723.5L846.2 723.6L847.7 723.7L849.2 723.8L850.7 724.0L852.2 724.2L853.7 724.4L855.2 724.7L856.7 725.0L858.2 725.3L859.7 725.6L861.2 726.0L862.7 726.3L864.2 726.7L865.7 727.1L867.2 727.5L868.7 727.8L870.2 728.2L871.7 728.5L873.2 728.9L874.7 729.2L876.2 729.5L877.7 729.7L879.2 729.9L880.5 730.1L880.5 731.2Z" fill="#b3b3b3"/>
<path d="M451.7 729.9L453.2 729.8L454.7 729.6L456.2 729.4L457.7 729.1L459.2 728.8L460.7 728.4L462.2 728.0L463.7 727.5L465.2 727.0L466.7 726.4L468.2 725.8L469.7 725.2L471.2 724.5L472.7 723.8L474.2 723.0L475.7 722.2L477.2 721.4L478.7 720.6L480.2 719.7L481.7 718.8L483.2 717.9L484.7 717.0L486.2 716.0L487.7 715.0L489.2 714.0L490.7 713.0L492.2 712.0L493.7 710.9L495.2 709.9L496.7 708.8L498.2 707.7L499.7 706.6L501.2 705.5L502.7 704.4L504.2 703.3L505.7 702.2L507.2 701.1L508.7 700.0L510.2 698.9L511.7 697.9L513.2 696.8L514.7 695.7L516.2 694.6L517.7 693.6L519.2 692.6L520.7 691.5L522.2 690.5L523.7 689.4L525.2 688.4L526.7 687.3L528.2 686.3L529.7 685.2L531.2 684.1L532.7 682.9L534.2 681.8L535.7 680.6L537.2 679.4L538.7 678.1L540.2 676.8L541.7 675.4L543.2 674.0L544.7 672.5L546.2 671.0L547.7 669.4L549.2 667.7L550.7 666.0L552.2 664.2L553.7 662.3L555.2 660.3L556.7 658.3L558.2 656.1L559.7 653.9L561.2 651.6L562.7 649.1L564.2 646.6L565.7 644.0L567.2 641.3L568.7 638.6L570.2 635.9L571.7 633.1L573.2 630.4L574.7 627.8L576.2 625.2L577.7 622.8L579.2 620.4L580.7 618.2L582.2 616.2L583.7 614.4L585.2 612.7L586.7 611.2L588.2 609.9L589.7 608.8L591.2 607.8L592.7 607.1L594.2 606.6L595.7 606.4L597.2 606.3L598.7 606.5L600.2 606.9L601.7 607.6L603.2 608.4L604.7 609.5L606.2 610.7L607.7 612.2L609.2 613.8L610.7 615.6L612.2 617.6L613.7 619.8L615.2 622.1L616.7 624.5L618.2 627.1L619.7 629.7L621.2 632.4L622.7 635.1L624.2 637.8L625.7 640.4L627.2 643.0L628.7 645.4L630.2 647.7L631.7 649.9L633.2 651.9L634.7 653.8L636.2 655.5L637.7 657.0L639.2 658.4L640.7 659.7L642.2 660.9L643.7 662.0L645.2 663.0L646.7 663.9L648.2 664.8L649.7 665.5L651.2 666.3L652.7 666.9L654.2 667.5L655.7 668.1L657.2 668.7L658.7 669.2L660.2 669.8L661.7 670.3L663.2 670.8L664.7 671.3L666.2 671.8L667.7 672.3L669.2 672.8L670.7 673.3L672.2 673.9L673.7 674.4L675.2 675.0L676.7 675.6L678.2 676.2L679.7 676.8L681.2 677.5L682.7 678.2L684.2 679.0L685.7 679.8L687.2 680.6L688.7 681.5L690.2 682.5L691.7 683.5L693.2 684.5L694.7 685.6L696.2 686.8L697.7 687.9L699.2 689.1L700.7 690.4L702.2 691.6L703.7 692.9L705.2 694.2L706.7 695.4L708.2 696.7L709.7 698.0L711.2 699.2L712.7 700.5L714.2 701.7L715.7 702.8L717.2 704.0L718.7 705.1L720.2 706.1L721.7 707.1L723.2 708.0L724.7 708.9L726.2 709.7L727.7 710.5L729.2 711.3L730.7 712.0L732.2 712.6L733.7 713.2L735.2 713.8L736.7 714.4L738.2 714.9L739.7 715.4L741.2 715.9L742.7 716.3L744.2 716.8L745.7 717.2L747.2 717.6L748.7 718.0L750.2 718.4L751.7 718.8L753.2 719.1L754.7 719.5L756.2 719.9L757.7 720.3L759.2 720.7L760.7 721.1L762.2 721.5L763.7 721.9L765.2 722.3L766.7 722.7L768.2 723.1L769.7 723.4L771.2 723.8L772.7 724.1L774.2 724.5L775.7 724.8L777.2 725.1L778.7 725.4L780.2 725.7L781.7 726.0L783.2 726.2L784.7 726.4L786.2 726.6L787.7 726.8L789.2 726.9L790.7 727.0L792.2 727.1L793.7 727.2L795.2 727.2L796.7 727.2L798.2 727.1L799.7 727.1L801.2 727.0L802.7 726.9L804.2 726.7L805.7 726.6L807.2 726.4L808.7 726.2L810.2 726.1L811.7 725.9L813.2 725.7L814.7 725.5L816.2 725.3L817.7 725.1L819.2 724.9L820.7 724.7L822.2 724.5L823.7 724.3L825.2 724.1L826.7 724.0L828.2 723.8L829.7 723.7L831.2 723.6L832.7 723.5L834.2 723.4L835.7 723.4L837.2 723.3L838.7 723.3L840.2 723.3L841.7 723.4L843.2 723.4L844.7 723.5L846.2 723.6L847.7 723.7L849.2 723.8L850.7 724.0L852.2 724.2L853.7 724.4L855.2 724.7L856.7 725.0L858.2 725.3L859.7 725.6L861.2 726.0L862.7 726.3L864.2 726.7L865.7 727.1L867.2 727.5L868.7 727.8L870.2 728.2L871.7 728.5L873.2 728.9L874.7 729.2L876.2 729.5L877.7 729.7L879.2 729.9L880.5 730.1" fill="none" stroke="#0a0a0a" stroke-width="1.95" stroke-linejoin="round"/>
<line x1="610.5" x2="610.5" y1="616.2" y2="731.2" stroke="#000" stroke-width="6.2"/>
<text class="it lb" x="631.9" y="718.4" xml:space="preserve">42   <tspan dx="-4.3">cm</tspan></text>
<path d="M367.4 917.6L367.4 916.1L368.9 915.8L370.4 915.4L371.9 915.1L373.4 914.8L374.9 914.5L376.4 914.2L377.9 913.9L379.4 913.6L380.9 913.4L382.4 913.1L383.9 912.9L385.4 912.6L386.9 912.4L388.4 912.2L389.9 912.0L391.4 911.7L392.9 911.5L394.4 911.3L395.9 911.1L397.4 911.0L398.9 910.8L400.4 910.6L401.9 910.4L403.4 910.2L404.9 910.1L406.4 909.9L407.9 909.7L409.4 909.5L410.9 909.4L412.4 909.2L413.9 909.0L415.4 908.9L416.9 908.7L418.4 908.5L419.9 908.3L421.4 908.2L422.9 908.0L424.4 907.8L425.9 907.6L427.4 907.4L428.9 907.2L430.4 907.0L431.9 906.8L433.4 906.5L434.9 906.3L436.4 906.1L437.9 905.8L439.4 905.6L440.9 905.3L442.4 905.0L443.9 904.7L445.4 904.3L446.9 903.9L448.4 903.5L449.9 903.0L451.4 902.5L452.9 901.9L454.4 901.3L455.9 900.7L457.4 900.0L458.9 899.2L460.4 898.3L461.9 897.4L463.4 896.5L464.9 895.4L466.4 894.3L467.9 893.1L469.4 891.8L470.9 890.4L472.4 888.9L473.9 887.3L475.4 885.7L476.9 883.9L478.4 882.0L479.9 880.1L481.4 878.0L482.9 875.8L484.4 873.6L485.9 871.2L487.4 868.8L488.9 866.3L490.4 863.7L491.9 861.1L493.4 858.3L494.9 855.5L496.4 852.7L497.9 849.8L499.4 846.8L500.9 843.7L502.4 840.6L503.9 837.5L505.4 834.3L506.9 831.0L508.4 827.8L509.9 824.4L511.4 821.1L512.9 817.7L514.4 814.3L515.9 810.8L517.4 807.4L518.9 803.9L520.4 800.4L521.9 796.9L523.4 793.4L524.9 790.0L526.4 786.6L527.9 783.2L529.4 779.9L530.9 776.7L532.4 773.7L533.9 770.7L535.4 767.9L536.9 765.2L538.4 762.7L539.9 760.3L541.4 758.2L542.9 756.3L544.4 754.6L545.9 753.1L547.4 751.9L548.9 751.0L550.4 750.3L551.9 749.8L553.4 749.6L554.9 749.6L556.4 749.9L557.9 750.4L559.4 751.1L560.9 752.0L562.4 753.1L563.9 754.4L565.4 755.9L566.9 757.7L568.4 759.6L569.9 761.7L571.4 764.0L572.9 766.5L574.4 769.1L575.9 772.0L577.4 774.9L578.9 778.1L580.4 781.4L581.9 784.9L583.4 788.4L584.9 792.1L586.4 795.9L587.9 799.8L589.4 803.8L590.9 807.8L592.4 811.8L593.9 815.9L595.4 820.1L596.9 824.2L598.4 828.3L599.9 832.4L601.4 836.5L602.9 840.5L604.4 844.5L605.9 848.4L607.4 852.2L608.9 856.0L610.4 859.6L611.9 863.2L613.4 866.6L614.9 869.8L616.4 873.0L617.9 876.0L619.4 878.9L620.9 881.6L622.4 884.2L623.9 886.6L625.4 888.9L626.9 891.1L628.4 893.1L629.9 895.0L631.4 896.7L632.9 898.3L634.4 899.7L635.9 901.0L637.4 902.2L638.9 903.3L640.4 904.3L641.9 905.2L643.4 906.0L644.9 906.8L646.4 907.4L647.9 908.1L649.4 908.6L650.9 909.2L652.4 909.7L653.9 910.1L655.4 910.5L656.9 910.9L658.4 911.2L659.9 911.6L661.4 911.8L662.9 912.1L664.4 912.3L665.9 912.5L667.4 912.7L668.9 912.9L670.4 913.1L671.9 913.2L673.4 913.3L674.9 913.5L676.4 913.6L677.9 913.7L679.4 913.8L680.9 913.9L682.4 914.0L683.9 914.1L685.4 914.3L686.9 914.4L688.4 914.5L689.9 914.7L691.4 914.9L692.9 915.0L694.4 915.2L695.9 915.5L697.4 915.7L698.9 916.0L699.5 916.1L699.5 917.6Z" fill="#b3b3b3"/>
<path d="M367.4 916.1L368.9 915.8L370.4 915.4L371.9 915.1L373.4 914.8L374.9 914.5L376.4 914.2L377.9 913.9L379.4 913.6L380.9 913.4L382.4 913.1L383.9 912.9L385.4 912.6L386.9 912.4L388.4 912.2L389.9 912.0L391.4 911.7L392.9 911.5L394.4 911.3L395.9 911.1L397.4 911.0L398.9 910.8L400.4 910.6L401.9 910.4L403.4 910.2L404.9 910.1L406.4 909.9L407.9 909.7L409.4 909.5L410.9 909.4L412.4 909.2L413.9 909.0L415.4 908.9L416.9 908.7L418.4 908.5L419.9 908.3L421.4 908.2L422.9 908.0L424.4 907.8L425.9 907.6L427.4 907.4L428.9 907.2L430.4 907.0L431.9 906.8L433.4 906.5L434.9 906.3L436.4 906.1L437.9 905.8L439.4 905.6L440.9 905.3L442.4 905.0L443.9 904.7L445.4 904.3L446.9 903.9L448.4 903.5L449.9 903.0L451.4 902.5L452.9 901.9L454.4 901.3L455.9 900.7L457.4 900.0L458.9 899.2L460.4 898.3L461.9 897.4L463.4 896.5L464.9 895.4L466.4 894.3L467.9 893.1L469.4 891.8L470.9 890.4L472.4 888.9L473.9 887.3L475.4 885.7L476.9 883.9L478.4 882.0L479.9 880.1L481.4 878.0L482.9 875.8L484.4 873.6L485.9 871.2L487.4 868.8L488.9 866.3L490.4 863.7L491.9 861.1L493.4 858.3L494.9 855.5L496.4 852.7L497.9 849.8L499.4 846.8L500.9 843.7L502.4 840.6L503.9 837.5L505.4 834.3L506.9 831.0L508.4 827.8L509.9 824.4L511.4 821.1L512.9 817.7L514.4 814.3L515.9 810.8L517.4 807.4L518.9 803.9L520.4 800.4L521.9 796.9L523.4 793.4L524.9 790.0L526.4 786.6L527.9 783.2L529.4 779.9L530.9 776.7L532.4 773.7L533.9 770.7L535.4 767.9L536.9 765.2L538.4 762.7L539.9 760.3L541.4 758.2L542.9 756.3L544.4 754.6L545.9 753.1L547.4 751.9L548.9 751.0L550.4 750.3L551.9 749.8L553.4 749.6L554.9 749.6L556.4 749.9L557.9 750.4L559.4 751.1L560.9 752.0L562.4 753.1L563.9 754.4L565.4 755.9L566.9 757.7L568.4 759.6L569.9 761.7L571.4 764.0L572.9 766.5L574.4 769.1L575.9 772.0L577.4 774.9L578.9 778.1L580.4 781.4L581.9 784.9L583.4 788.4L584.9 792.1L586.4 795.9L587.9 799.8L589.4 803.8L590.9 807.8L592.4 811.8L593.9 815.9L595.4 820.1L596.9 824.2L598.4 828.3L599.9 832.4L601.4 836.5L602.9 840.5L604.4 844.5L605.9 848.4L607.4 852.2L608.9 856.0L610.4 859.6L611.9 863.2L613.4 866.6L614.9 869.8L616.4 873.0L617.9 876.0L619.4 878.9L620.9 881.6L622.4 884.2L623.9 886.6L625.4 888.9L626.9 891.1L628.4 893.1L629.9 895.0L631.4 896.7L632.9 898.3L634.4 899.7L635.9 901.0L637.4 902.2L638.9 903.3L640.4 904.3L641.9 905.2L643.4 906.0L644.9 906.8L646.4 907.4L647.9 908.1L649.4 908.6L650.9 909.2L652.4 909.7L653.9 910.1L655.4 910.5L656.9 910.9L658.4 911.2L659.9 911.6L661.4 911.8L662.9 912.1L664.4 912.3L665.9 912.5L667.4 912.7L668.9 912.9L670.4 913.1L671.9 913.2L673.4 913.3L674.9 913.5L676.4 913.6L677.9 913.7L679.4 913.8L680.9 913.9L682.4 914.0L683.9 914.1L685.4 914.3L686.9 914.4L688.4 914.5L689.9 914.7L691.4 914.9L692.9 915.0L694.4 915.2L695.9 915.5L697.4 915.7L698.9 916.0L699.5 916.1" fill="none" stroke="#0a0a0a" stroke-width="1.95" stroke-linejoin="round"/>
<line x1="547.3" x2="547.3" y1="751.8" y2="917.6" stroke="#000" stroke-width="6.2"/>
<text class="it lb" x="556.0" y="904.8" xml:space="preserve">34.5 cm</text>
<path d="M268.5 1104.1L268.5 1102.5L270.0 1102.3L271.5 1102.0L273.0 1101.7L274.5 1101.3L276.0 1100.7L277.5 1100.1L279.0 1099.5L280.5 1098.7L282.0 1097.9L283.5 1097.0L285.0 1096.1L286.5 1095.1L288.0 1094.0L289.5 1092.9L291.0 1091.7L292.5 1090.4L294.0 1089.1L295.5 1087.8L297.0 1086.4L298.5 1084.9L300.0 1083.4L301.5 1081.9L303.0 1080.3L304.5 1078.7L306.0 1077.1L307.5 1075.4L309.0 1073.7L310.5 1072.0L312.0 1070.3L313.5 1068.6L315.0 1066.8L316.5 1065.1L318.0 1063.3L319.5 1061.6L321.0 1059.9L322.5 1058.2L324.0 1056.5L325.5 1054.8L327.0 1053.1L328.5 1051.5L330.0 1049.9L331.5 1048.3L333.0 1046.8L334.5 1045.3L336.0 1043.9L337.5 1042.5L339.0 1041.2L340.5 1039.9L342.0 1038.7L343.5 1037.6L345.0 1036.5L346.5 1035.5L348.0 1034.6L349.5 1033.7L351.0 1033.0L352.5 1032.3L354.0 1031.7L355.5 1031.3L357.0 1030.9L358.5 1030.6L360.0 1030.5L361.5 1030.4L363.0 1030.5L364.5 1030.6L366.0 1030.9L367.5 1031.4L369.0 1031.9L370.5 1032.6L372.0 1033.5L373.5 1034.4L375.0 1035.5L376.5 1036.8L378.0 1038.2L379.5 1039.7L381.0 1041.3L382.5 1043.1L384.0 1044.9L385.5 1046.9L387.0 1049.0L388.5 1051.2L390.0 1053.5L391.5 1055.9L393.0 1058.3L394.5 1060.8L396.0 1063.3L397.5 1065.7L399.0 1068.1L400.5 1070.5L402.0 1072.8L403.5 1075.0L405.0 1077.1L406.5 1079.2L408.0 1081.2L409.5 1083.1L411.0 1084.9L412.5 1086.6L414.0 1088.3L415.5 1089.9L417.0 1091.3L418.5 1092.7L420.0 1093.9L421.5 1095.1L423.0 1096.2L424.5 1097.2L426.0 1098.1L427.5 1098.9L429.0 1099.6L430.5 1100.2L432.0 1100.7L433.5 1101.1L435.0 1101.5L436.5 1101.7L438.0 1101.8L439.5 1101.9L441.0 1101.9L442.5 1101.7L444.0 1101.5L445.5 1101.2L447.0 1100.8L448.5 1100.3L450.0 1099.7L451.5 1099.1L453.0 1098.3L454.5 1097.5L456.0 1096.6L457.5 1095.5L459.0 1094.4L460.5 1093.2L462.0 1091.9L463.5 1090.6L465.0 1089.1L466.5 1087.5L468.0 1085.8L469.5 1084.0L471.0 1082.1L472.5 1080.0L474.0 1077.8L475.5 1075.4L477.0 1073.0L478.5 1070.5L480.0 1067.9L481.5 1065.2L483.0 1062.5L484.5 1059.7L486.0 1056.9L487.5 1054.2L489.0 1051.4L490.5 1048.6L492.0 1045.9L493.5 1043.2L495.0 1040.5L496.5 1037.9L498.0 1035.3L499.5 1032.8L501.0 1030.4L502.5 1028.0L504.0 1025.6L505.5 1023.3L507.0 1021.1L508.5 1018.9L510.0 1016.8L511.5 1014.7L513.0 1012.8L514.5 1010.8L516.0 1009.0L517.5 1007.2L519.0 1005.5L520.5 1003.8L522.0 1002.3L523.5 1000.8L525.0 999.3L526.5 998.0L528.0 996.7L529.5 995.5L531.0 994.3L532.5 993.3L534.0 992.3L535.5 991.4L537.0 990.6L538.5 989.8L540.0 989.2L541.5 988.6L543.0 988.1L544.5 987.7L546.0 987.4L547.5 987.2L549.0 987.1L550.5 987.2L552.0 987.4L553.5 987.7L555.0 988.2L556.5 988.9L558.0 989.8L559.5 990.9L561.0 992.2L562.5 993.7L564.0 995.5L565.5 997.5L567.0 999.6L568.5 1002.0L570.0 1004.6L571.5 1007.4L573.0 1010.3L574.5 1013.4L576.0 1016.6L577.5 1019.9L579.0 1023.3L580.5 1026.7L582.0 1030.2L583.5 1033.7L585.0 1037.2L586.5 1040.7L588.0 1044.2L589.5 1047.6L591.0 1051.0L592.5 1054.3L594.0 1057.6L595.5 1060.8L597.0 1063.9L598.5 1066.9L600.0 1069.7L601.5 1072.5L603.0 1075.1L604.5 1077.6L606.0 1080.0L607.5 1082.3L609.0 1084.4L610.5 1086.5L612.0 1088.4L613.5 1090.2L615.0 1091.8L616.5 1093.4L618.0 1094.8L619.5 1096.1L621.0 1097.3L622.5 1098.4L624.0 1099.3L625.5 1100.1L627.0 1100.9L628.5 1101.4L630.0 1101.9L631.5 1102.3L633.0 1102.5L634.5 1102.6L634.9 1102.6L634.9 1104.1Z" fill="#b3b3b3"/>
<path d="M268.5 1102.5L270.0 1102.3L271.5 1102.0L273.0 1101.7L274.5 1101.3L276.0 1100.7L277.5 1100.1L279.0 1099.5L280.5 1098.7L282.0 1097.9L283.5 1097.0L285.0 1096.1L286.5 1095.1L288.0 1094.0L289.5 1092.9L291.0 1091.7L292.5 1090.4L294.0 1089.1L295.5 1087.8L297.0 1086.4L298.5 1084.9L300.0 1083.4L301.5 1081.9L303.0 1080.3L304.5 1078.7L306.0 1077.1L307.5 1075.4L309.0 1073.7L310.5 1072.0L312.0 1070.3L313.5 1068.6L315.0 1066.8L316.5 1065.1L318.0 1063.3L319.5 1061.6L321.0 1059.9L322.5 1058.2L324.0 1056.5L325.5 1054.8L327.0 1053.1L328.5 1051.5L330.0 1049.9L331.5 1048.3L333.0 1046.8L334.5 1045.3L336.0 1043.9L337.5 1042.5L339.0 1041.2L340.5 1039.9L342.0 1038.7L343.5 1037.6L345.0 1036.5L346.5 1035.5L348.0 1034.6L349.5 1033.7L351.0 1033.0L352.5 1032.3L354.0 1031.7L355.5 1031.3L357.0 1030.9L358.5 1030.6L360.0 1030.5L361.5 1030.4L363.0 1030.5L364.5 1030.6L366.0 1030.9L367.5 1031.4L369.0 1031.9L370.5 1032.6L372.0 1033.5L373.5 1034.4L375.0 1035.5L376.5 1036.8L378.0 1038.2L379.5 1039.7L381.0 1041.3L382.5 1043.1L384.0 1044.9L385.5 1046.9L387.0 1049.0L388.5 1051.2L390.0 1053.5L391.5 1055.9L393.0 1058.3L394.5 1060.8L396.0 1063.3L397.5 1065.7L399.0 1068.1L400.5 1070.5L402.0 1072.8L403.5 1075.0L405.0 1077.1L406.5 1079.2L408.0 1081.2L409.5 1083.1L411.0 1084.9L412.5 1086.6L414.0 1088.3L415.5 1089.9L417.0 1091.3L418.5 1092.7L420.0 1093.9L421.5 1095.1L423.0 1096.2L424.5 1097.2L426.0 1098.1L427.5 1098.9L429.0 1099.6L430.5 1100.2L432.0 1100.7L433.5 1101.1L435.0 1101.5L436.5 1101.7L438.0 1101.8L439.5 1101.9L441.0 1101.9L442.5 1101.7L444.0 1101.5L445.5 1101.2L447.0 1100.8L448.5 1100.3L450.0 1099.7L451.5 1099.1L453.0 1098.3L454.5 1097.5L456.0 1096.6L457.5 1095.5L459.0 1094.4L460.5 1093.2L462.0 1091.9L463.5 1090.6L465.0 1089.1L466.5 1087.5L468.0 1085.8L469.5 1084.0L471.0 1082.1L472.5 1080.0L474.0 1077.8L475.5 1075.4L477.0 1073.0L478.5 1070.5L480.0 1067.9L481.5 1065.2L483.0 1062.5L484.5 1059.7L486.0 1056.9L487.5 1054.2L489.0 1051.4L490.5 1048.6L492.0 1045.9L493.5 1043.2L495.0 1040.5L496.5 1037.9L498.0 1035.3L499.5 1032.8L501.0 1030.4L502.5 1028.0L504.0 1025.6L505.5 1023.3L507.0 1021.1L508.5 1018.9L510.0 1016.8L511.5 1014.7L513.0 1012.8L514.5 1010.8L516.0 1009.0L517.5 1007.2L519.0 1005.5L520.5 1003.8L522.0 1002.3L523.5 1000.8L525.0 999.3L526.5 998.0L528.0 996.7L529.5 995.5L531.0 994.3L532.5 993.3L534.0 992.3L535.5 991.4L537.0 990.6L538.5 989.8L540.0 989.2L541.5 988.6L543.0 988.1L544.5 987.7L546.0 987.4L547.5 987.2L549.0 987.1L550.5 987.2L552.0 987.4L553.5 987.7L555.0 988.2L556.5 988.9L558.0 989.8L559.5 990.9L561.0 992.2L562.5 993.7L564.0 995.5L565.5 997.5L567.0 999.6L568.5 1002.0L570.0 1004.6L571.5 1007.4L573.0 1010.3L574.5 1013.4L576.0 1016.6L577.5 1019.9L579.0 1023.3L580.5 1026.7L582.0 1030.2L583.5 1033.7L585.0 1037.2L586.5 1040.7L588.0 1044.2L589.5 1047.6L591.0 1051.0L592.5 1054.3L594.0 1057.6L595.5 1060.8L597.0 1063.9L598.5 1066.9L600.0 1069.7L601.5 1072.5L603.0 1075.1L604.5 1077.6L606.0 1080.0L607.5 1082.3L609.0 1084.4L610.5 1086.5L612.0 1088.4L613.5 1090.2L615.0 1091.8L616.5 1093.4L618.0 1094.8L619.5 1096.1L621.0 1097.3L622.5 1098.4L624.0 1099.3L625.5 1100.1L627.0 1100.9L628.5 1101.4L630.0 1101.9L631.5 1102.3L633.0 1102.5L634.5 1102.6L634.9 1102.6" fill="none" stroke="#0a0a0a" stroke-width="1.95" stroke-linejoin="round"/>
<line x1="474.9" x2="474.9" y1="1079.6" y2="1104.1" stroke="#000" stroke-width="6.2"/>
<text class="it lb" x="483.6" y="1091.3" xml:space="preserve">25.9 cm</text>
<line x1="282.0" x2="282.0" y1="1104.1" y2="954.8" stroke="#000" stroke-width="3.4" stroke-dasharray="12.25 12.25"/>
<line x1="442.0" x2="442.0" y1="1104.1" y2="954.8" stroke="#000" stroke-width="3.4" stroke-dasharray="12.25 12.25"/>
<line x1="635.7" x2="635.7" y1="1104.1" y2="954.8" stroke="#000" stroke-width="3.4" stroke-dasharray="12.25 12.25"/>
<path d="M308.2 963.5L291.4 973.5L308.2 983.5M291.4 973.5L432.6 973.5M415.8 963.5L432.6 973.5L415.8 983.5" fill="none" stroke="#000" stroke-width="3.4" stroke-linejoin="miter" stroke-miterlimit="10"/>
<text class="it an" x="362.0" y="964.9" text-anchor="middle">&lt; 22 cm</text>
<path d="M468.2 963.5L451.4 973.5L468.2 983.5M451.4 973.5L626.3 973.5M609.5 963.5L626.3 973.5L609.5 983.5" fill="none" stroke="#000" stroke-width="3.4" stroke-linejoin="miter" stroke-miterlimit="10"/>
<text class="it an" x="538.9" y="964.9" text-anchor="middle">&gt; 22 cm</text>
<path d="M358.4 1290.5L358.4 1289.2L359.9 1289.0L361.4 1288.8L362.9 1288.5L364.4 1288.3L365.9 1288.1L367.4 1287.9L368.9 1287.8L370.4 1287.6L371.9 1287.4L373.4 1287.2L374.9 1287.0L376.4 1286.8L377.9 1286.7L379.4 1286.5L380.9 1286.3L382.4 1286.1L383.9 1285.9L385.4 1285.7L386.9 1285.5L388.4 1285.3L389.9 1285.1L391.4 1284.8L392.9 1284.6L394.4 1284.4L395.9 1284.1L397.4 1283.8L398.9 1283.6L400.4 1283.3L401.9 1282.9L403.4 1282.6L404.9 1282.3L406.4 1281.9L407.9 1281.6L409.4 1281.2L410.9 1280.8L412.4 1280.3L413.9 1279.9L415.4 1279.4L416.9 1278.9L418.4 1278.4L419.9 1277.9L421.4 1277.3L422.9 1276.7L424.4 1276.1L425.9 1275.4L427.4 1274.8L428.9 1274.1L430.4 1273.4L431.9 1272.7L433.4 1271.9L434.9 1271.2L436.4 1270.4L437.9 1269.6L439.4 1268.9L440.9 1268.1L442.4 1267.3L443.9 1266.6L445.4 1265.8L446.9 1265.0L448.4 1264.3L449.9 1263.5L451.4 1262.8L452.9 1262.1L454.4 1261.4L455.9 1260.8L457.4 1260.1L458.9 1259.5L460.4 1258.9L461.9 1258.3L463.4 1257.7L464.9 1257.1L466.4 1256.6L467.9 1256.0L469.4 1255.5L470.9 1255.0L472.4 1254.5L473.9 1254.0L475.4 1253.5L476.9 1253.0L478.4 1252.5L479.9 1252.0L481.4 1251.5L482.9 1251.0L484.4 1250.5L485.9 1249.9L487.4 1249.4L488.9 1248.8L490.4 1248.2L491.9 1247.6L493.4 1246.9L494.9 1246.2L496.4 1245.6L497.9 1244.8L499.4 1244.1L500.9 1243.3L502.4 1242.5L503.9 1241.7L505.4 1240.8L506.9 1239.9L508.4 1238.9L509.9 1238.0L511.4 1237.0L512.9 1235.9L514.4 1234.8L515.9 1233.7L517.4 1232.6L518.9 1231.4L520.4 1230.2L521.9 1229.0L523.4 1227.7L524.9 1226.5L526.4 1225.2L527.9 1223.9L529.4 1222.6L530.9 1221.3L532.4 1220.0L533.9 1218.7L535.4 1217.4L536.9 1216.1L538.4 1214.8L539.9 1213.6L541.4 1212.3L542.9 1211.1L544.4 1209.9L545.9 1208.7L547.4 1207.6L548.9 1206.4L550.4 1205.3L551.9 1204.2L553.4 1203.1L554.9 1202.0L556.4 1201.0L557.9 1200.0L559.4 1198.9L560.9 1197.9L562.4 1196.9L563.9 1196.0L565.4 1195.0L566.9 1194.0L568.4 1193.1L569.9 1192.1L571.4 1191.2L572.9 1190.3L574.4 1189.3L575.9 1188.4L577.4 1187.6L578.9 1186.7L580.4 1185.9L581.9 1185.0L583.4 1184.3L584.9 1183.5L586.4 1182.8L587.9 1182.2L589.4 1181.6L590.9 1181.0L592.4 1180.5L593.9 1180.1L595.4 1179.7L596.9 1179.4L598.4 1179.2L599.9 1179.0L601.4 1178.9L602.9 1178.9L604.4 1179.0L605.9 1179.2L607.4 1179.4L608.9 1179.8L610.4 1180.3L611.9 1180.9L613.4 1181.5L614.9 1182.3L616.4 1183.3L617.9 1184.3L619.4 1185.5L620.9 1186.8L622.4 1188.2L623.9 1189.8L625.4 1191.4L626.9 1193.2L628.4 1195.1L629.9 1197.1L631.4 1199.2L632.9 1201.3L634.4 1203.6L635.9 1205.8L637.4 1208.2L638.9 1210.5L640.4 1212.9L641.9 1215.3L643.4 1217.8L644.9 1220.2L646.4 1222.7L647.9 1225.1L649.4 1227.5L650.9 1229.9L652.4 1232.2L653.9 1234.5L655.4 1236.7L656.9 1238.9L658.4 1241.1L659.9 1243.2L661.4 1245.2L662.9 1247.3L664.4 1249.2L665.9 1251.1L667.4 1253.0L668.9 1254.8L670.4 1256.6L671.9 1258.3L673.4 1259.9L674.9 1261.5L676.4 1263.1L677.9 1264.6L679.4 1266.0L680.9 1267.4L682.4 1268.7L683.9 1270.0L685.4 1271.2L686.9 1272.4L688.4 1273.5L689.9 1274.6L691.4 1275.6L692.9 1276.5L694.4 1277.4L695.9 1278.2L697.4 1278.9L698.9 1279.7L700.4 1280.3L701.9 1280.9L703.4 1281.5L704.9 1282.1L706.4 1282.6L707.9 1283.0L709.4 1283.5L710.9 1283.9L712.4 1284.3L713.9 1284.7L715.4 1285.0L716.9 1285.3L718.4 1285.7L719.9 1286.0L721.4 1286.3L722.9 1286.6L724.4 1286.9L725.9 1287.2L727.4 1287.5L728.9 1287.8L730.4 1288.1L731.9 1288.5L733.4 1288.8L734.9 1289.2L735.8 1289.4L735.8 1290.5Z" fill="#b3b3b3"/>
<path d="M358.4 1289.2L359.9 1289.0L361.4 1288.8L362.9 1288.5L364.4 1288.3L365.9 1288.1L367.4 1287.9L368.9 1287.8L370.4 1287.6L371.9 1287.4L373.4 1287.2L374.9 1287.0L376.4 1286.8L377.9 1286.7L379.4 1286.5L380.9 1286.3L382.4 1286.1L383.9 1285.9L385.4 1285.7L386.9 1285.5L388.4 1285.3L389.9 1285.1L391.4 1284.8L392.9 1284.6L394.4 1284.4L395.9 1284.1L397.4 1283.8L398.9 1283.6L400.4 1283.3L401.9 1282.9L403.4 1282.6L404.9 1282.3L406.4 1281.9L407.9 1281.6L409.4 1281.2L410.9 1280.8L412.4 1280.3L413.9 1279.9L415.4 1279.4L416.9 1278.9L418.4 1278.4L419.9 1277.9L421.4 1277.3L422.9 1276.7L424.4 1276.1L425.9 1275.4L427.4 1274.8L428.9 1274.1L430.4 1273.4L431.9 1272.7L433.4 1271.9L434.9 1271.2L436.4 1270.4L437.9 1269.6L439.4 1268.9L440.9 1268.1L442.4 1267.3L443.9 1266.6L445.4 1265.8L446.9 1265.0L448.4 1264.3L449.9 1263.5L451.4 1262.8L452.9 1262.1L454.4 1261.4L455.9 1260.8L457.4 1260.1L458.9 1259.5L460.4 1258.9L461.9 1258.3L463.4 1257.7L464.9 1257.1L466.4 1256.6L467.9 1256.0L469.4 1255.5L470.9 1255.0L472.4 1254.5L473.9 1254.0L475.4 1253.5L476.9 1253.0L478.4 1252.5L479.9 1252.0L481.4 1251.5L482.9 1251.0L484.4 1250.5L485.9 1249.9L487.4 1249.4L488.9 1248.8L490.4 1248.2L491.9 1247.6L493.4 1246.9L494.9 1246.2L496.4 1245.6L497.9 1244.8L499.4 1244.1L500.9 1243.3L502.4 1242.5L503.9 1241.7L505.4 1240.8L506.9 1239.9L508.4 1238.9L509.9 1238.0L511.4 1237.0L512.9 1235.9L514.4 1234.8L515.9 1233.7L517.4 1232.6L518.9 1231.4L520.4 1230.2L521.9 1229.0L523.4 1227.7L524.9 1226.5L526.4 1225.2L527.9 1223.9L529.4 1222.6L530.9 1221.3L532.4 1220.0L533.9 1218.7L535.4 1217.4L536.9 1216.1L538.4 1214.8L539.9 1213.6L541.4 1212.3L542.9 1211.1L544.4 1209.9L545.9 1208.7L547.4 1207.6L548.9 1206.4L550.4 1205.3L551.9 1204.2L553.4 1203.1L554.9 1202.0L556.4 1201.0L557.9 1200.0L559.4 1198.9L560.9 1197.9L562.4 1196.9L563.9 1196.0L565.4 1195.0L566.9 1194.0L568.4 1193.1L569.9 1192.1L571.4 1191.2L572.9 1190.3L574.4 1189.3L575.9 1188.4L577.4 1187.6L578.9 1186.7L580.4 1185.9L581.9 1185.0L583.4 1184.3L584.9 1183.5L586.4 1182.8L587.9 1182.2L589.4 1181.6L590.9 1181.0L592.4 1180.5L593.9 1180.1L595.4 1179.7L596.9 1179.4L598.4 1179.2L599.9 1179.0L601.4 1178.9L602.9 1178.9L604.4 1179.0L605.9 1179.2L607.4 1179.4L608.9 1179.8L610.4 1180.3L611.9 1180.9L613.4 1181.5L614.9 1182.3L616.4 1183.3L617.9 1184.3L619.4 1185.5L620.9 1186.8L622.4 1188.2L623.9 1189.8L625.4 1191.4L626.9 1193.2L628.4 1195.1L629.9 1197.1L631.4 1199.2L632.9 1201.3L634.4 1203.6L635.9 1205.8L637.4 1208.2L638.9 1210.5L640.4 1212.9L641.9 1215.3L643.4 1217.8L644.9 1220.2L646.4 1222.7L647.9 1225.1L649.4 1227.5L650.9 1229.9L652.4 1232.2L653.9 1234.5L655.4 1236.7L656.9 1238.9L658.4 1241.1L659.9 1243.2L661.4 1245.2L662.9 1247.3L664.4 1249.2L665.9 1251.1L667.4 1253.0L668.9 1254.8L670.4 1256.6L671.9 1258.3L673.4 1259.9L674.9 1261.5L676.4 1263.1L677.9 1264.6L679.4 1266.0L680.9 1267.4L682.4 1268.7L683.9 1270.0L685.4 1271.2L686.9 1272.4L688.4 1273.5L689.9 1274.6L691.4 1275.6L692.9 1276.5L694.4 1277.4L695.9 1278.2L697.4 1278.9L698.9 1279.7L700.4 1280.3L701.9 1280.9L703.4 1281.5L704.9 1282.1L706.4 1282.6L707.9 1283.0L709.4 1283.5L710.9 1283.9L712.4 1284.3L713.9 1284.7L715.4 1285.0L716.9 1285.3L718.4 1285.7L719.9 1286.0L721.4 1286.3L722.9 1286.6L724.4 1286.9L725.9 1287.2L727.4 1287.5L728.9 1287.8L730.4 1288.1L731.9 1288.5L733.4 1288.8L734.9 1289.2L735.8 1289.4" fill="none" stroke="#0a0a0a" stroke-width="1.95" stroke-linejoin="round"/>
<line x1="572.6" x2="572.6" y1="1193.1" y2="1290.5" stroke="#000" stroke-width="6.2"/>
<text class="it lb" x="581.3" y="1277.7" xml:space="preserve">37.5 cm</text>
<path d="M317.1 1476.9L317.1 1475.6L318.6 1475.3L320.1 1474.9L321.6 1474.5L323.1 1474.0L324.6 1473.6L326.1 1473.1L327.6 1472.6L329.1 1472.1L330.6 1471.6L332.1 1471.0L333.6 1470.4L335.1 1469.9L336.6 1469.3L338.1 1468.7L339.6 1468.1L341.1 1467.5L342.6 1466.9L344.1 1466.2L345.6 1465.6L347.1 1465.0L348.6 1464.4L350.1 1463.8L351.6 1463.2L353.1 1462.6L354.6 1462.1L356.1 1461.5L357.6 1461.0L359.1 1460.4L360.6 1459.9L362.1 1459.4L363.6 1459.0L365.1 1458.5L366.6 1458.1L368.1 1457.7L369.6 1457.3L371.1 1457.0L372.6 1456.7L374.1 1456.4L375.6 1456.2L377.1 1456.0L378.6 1455.8L380.1 1455.7L381.6 1455.6L383.1 1455.6L384.6 1455.6L386.1 1455.7L387.6 1455.7L389.1 1455.8L390.6 1456.0L392.1 1456.1L393.6 1456.3L395.1 1456.5L396.6 1456.7L398.1 1456.9L399.6 1457.1L401.1 1457.4L402.6 1457.6L404.1 1457.8L405.6 1458.0L407.1 1458.2L408.6 1458.4L410.1 1458.6L411.6 1458.8L413.1 1458.9L414.6 1459.0L416.1 1459.1L417.6 1459.1L419.1 1459.1L420.6 1459.1L422.1 1459.0L423.6 1458.9L425.1 1458.7L426.6 1458.5L428.1 1458.2L429.6 1457.9L431.1 1457.6L432.6 1457.3L434.1 1456.9L435.6 1456.5L437.1 1456.1L438.6 1455.6L440.1 1455.1L441.6 1454.7L443.1 1454.2L444.6 1453.7L446.1 1453.2L447.6 1452.6L449.1 1452.1L450.6 1451.6L452.1 1451.1L453.6 1450.6L455.1 1450.1L456.6 1449.6L458.1 1449.1L459.6 1448.7L461.1 1448.2L462.6 1447.8L464.1 1447.4L465.6 1447.0L467.1 1446.7L468.6 1446.3L470.1 1446.0L471.6 1445.7L473.1 1445.4L474.6 1445.1L476.1 1444.8L477.6 1444.5L479.1 1444.2L480.6 1443.9L482.1 1443.6L483.6 1443.2L485.1 1442.9L486.6 1442.5L488.1 1442.2L489.6 1441.8L491.1 1441.3L492.6 1440.9L494.1 1440.4L495.6 1439.9L497.1 1439.3L498.6 1438.8L500.1 1438.1L501.6 1437.5L503.1 1436.7L504.6 1436.0L506.1 1435.1L507.6 1434.3L509.1 1433.3L510.6 1432.3L512.1 1431.3L513.6 1430.2L515.1 1429.0L516.6 1427.7L518.1 1426.4L519.6 1425.0L521.1 1423.5L522.6 1421.9L524.1 1420.2L525.6 1418.5L527.1 1416.7L528.6 1414.7L530.1 1412.7L531.6 1410.6L533.1 1408.4L534.6 1406.1L536.1 1403.8L537.6 1401.5L539.1 1399.1L540.6 1396.8L542.1 1394.6L543.6 1392.3L545.1 1390.2L546.6 1388.1L548.1 1386.2L549.6 1384.3L551.1 1382.5L552.6 1380.8L554.1 1379.3L555.6 1377.8L557.1 1376.5L558.6 1375.3L560.1 1374.2L561.6 1373.2L563.1 1372.4L564.6 1371.6L566.1 1371.0L567.6 1370.5L569.1 1370.1L570.6 1369.8L572.1 1369.5L573.6 1369.4L575.1 1369.4L576.6 1369.5L578.1 1369.6L579.6 1369.9L581.1 1370.2L582.6 1370.6L584.1 1371.1L585.6 1371.7L587.1 1372.3L588.6 1373.1L590.1 1373.8L591.6 1374.7L593.1 1375.6L594.6 1376.6L596.1 1377.6L597.6 1378.7L599.1 1379.8L600.6 1381.0L602.1 1382.3L603.6 1383.6L605.1 1384.9L606.6 1386.2L608.1 1387.6L609.6 1389.1L611.1 1390.5L612.6 1392.0L614.1 1393.6L615.6 1395.1L617.1 1396.6L618.6 1398.2L620.1 1399.8L621.6 1401.3L623.1 1402.9L624.6 1404.5L626.1 1406.0L627.6 1407.5L629.1 1409.0L630.6 1410.5L632.1 1411.9L633.6 1413.3L635.1 1414.7L636.6 1416.0L638.1 1417.3L639.6 1418.5L641.1 1419.6L642.6 1420.8L644.1 1421.9L645.6 1422.9L647.1 1424.0L648.6 1425.0L650.1 1426.0L651.6 1427.0L653.1 1428.0L654.6 1429.0L656.1 1430.0L657.6 1431.0L659.1 1432.0L660.6 1433.0L662.1 1434.1L663.6 1435.2L665.1 1436.3L666.6 1437.5L668.1 1438.6L669.6 1439.8L671.1 1441.0L672.6 1442.1L674.1 1443.3L675.6 1444.5L677.1 1445.6L678.6 1446.8L680.1 1447.9L681.6 1449.0L683.1 1450.1L684.6 1451.1L686.1 1452.1L687.6 1453.0L689.1 1453.9L690.6 1454.8L692.1 1455.6L693.6 1456.4L695.1 1457.1L696.6 1457.8L698.1 1458.4L699.6 1459.1L701.1 1459.7L702.6 1460.2L704.1 1460.8L705.6 1461.3L707.1 1461.8L708.6 1462.3L710.1 1462.7L711.6 1463.2L713.1 1463.6L714.6 1464.0L716.1 1464.5L717.6 1464.9L719.1 1465.3L720.6 1465.7L722.1 1466.0L723.6 1466.4L725.1 1466.8L726.6 1467.2L728.1 1467.5L729.6 1467.9L731.1 1468.3L732.6 1468.6L734.1 1469.0L735.6 1469.3L737.1 1469.7L738.6 1470.0L740.1 1470.4L741.6 1470.8L743.1 1471.1L744.6 1471.5L746.1 1471.9L747.6 1472.2L749.1 1472.6L750.6 1473.0L752.1 1473.4L753.6 1473.8L755.1 1474.2L756.6 1474.6L758.1 1475.0L759.6 1475.5L760.1 1475.6L760.1 1476.9Z" fill="#b3b3b3"/>
<path d="M317.1 1475.6L318.6 1475.3L320.1 1474.9L321.6 1474.5L323.1 1474.0L324.6 1473.6L326.1 1473.1L327.6 1472.6L329.1 1472.1L330.6 1471.6L332.1 1471.0L333.6 1470.4L335.1 1469.9L336.6 1469.3L338.1 1468.7L339.6 1468.1L341.1 1467.5L342.6 1466.9L344.1 1466.2L345.6 1465.6L347.1 1465.0L348.6 1464.4L350.1 1463.8L351.6 1463.2L353.1 1462.6L354.6 1462.1L356.1 1461.5L357.6 1461.0L359.1 1460.4L360.6 1459.9L362.1 1459.4L363.6 1459.0L365.1 1458.5L366.6 1458.1L368.1 1457.7L369.6 1457.3L371.1 1457.0L372.6 1456.7L374.1 1456.4L375.6 1456.2L377.1 1456.0L378.6 1455.8L380.1 1455.7L381.6 1455.6L383.1 1455.6L384.6 1455.6L386.1 1455.7L387.6 1455.7L389.1 1455.8L390.6 1456.0L392.1 1456.1L393.6 1456.3L395.1 1456.5L396.6 1456.7L398.1 1456.9L399.6 1457.1L401.1 1457.4L402.6 1457.6L404.1 1457.8L405.6 1458.0L407.1 1458.2L408.6 1458.4L410.1 1458.6L411.6 1458.8L413.1 1458.9L414.6 1459.0L416.1 1459.1L417.6 1459.1L419.1 1459.1L420.6 1459.1L422.1 1459.0L423.6 1458.9L425.1 1458.7L426.6 1458.5L428.1 1458.2L429.6 1457.9L431.1 1457.6L432.6 1457.3L434.1 1456.9L435.6 1456.5L437.1 1456.1L438.6 1455.6L440.1 1455.1L441.6 1454.7L443.1 1454.2L444.6 1453.7L446.1 1453.2L447.6 1452.6L449.1 1452.1L450.6 1451.6L452.1 1451.1L453.6 1450.6L455.1 1450.1L456.6 1449.6L458.1 1449.1L459.6 1448.7L461.1 1448.2L462.6 1447.8L464.1 1447.4L465.6 1447.0L467.1 1446.7L468.6 1446.3L470.1 1446.0L471.6 1445.7L473.1 1445.4L474.6 1445.1L476.1 1444.8L477.6 1444.5L479.1 1444.2L480.6 1443.9L482.1 1443.6L483.6 1443.2L485.1 1442.9L486.6 1442.5L488.1 1442.2L489.6 1441.8L491.1 1441.3L492.6 1440.9L494.1 1440.4L495.6 1439.9L497.1 1439.3L498.6 1438.8L500.1 1438.1L501.6 1437.5L503.1 1436.7L504.6 1436.0L506.1 1435.1L507.6 1434.3L509.1 1433.3L510.6 1432.3L512.1 1431.3L513.6 1430.2L515.1 1429.0L516.6 1427.7L518.1 1426.4L519.6 1425.0L521.1 1423.5L522.6 1421.9L524.1 1420.2L525.6 1418.5L527.1 1416.7L528.6 1414.7L530.1 1412.7L531.6 1410.6L533.1 1408.4L534.6 1406.1L536.1 1403.8L537.6 1401.5L539.1 1399.1L540.6 1396.8L542.1 1394.6L543.6 1392.3L545.1 1390.2L546.6 1388.1L548.1 1386.2L549.6 1384.3L551.1 1382.5L552.6 1380.8L554.1 1379.3L555.6 1377.8L557.1 1376.5L558.6 1375.3L560.1 1374.2L561.6 1373.2L563.1 1372.4L564.6 1371.6L566.1 1371.0L567.6 1370.5L569.1 1370.1L570.6 1369.8L572.1 1369.5L573.6 1369.4L575.1 1369.4L576.6 1369.5L578.1 1369.6L579.6 1369.9L581.1 1370.2L582.6 1370.6L584.1 1371.1L585.6 1371.7L587.1 1372.3L588.6 1373.1L590.1 1373.8L591.6 1374.7L593.1 1375.6L594.6 1376.6L596.1 1377.6L597.6 1378.7L599.1 1379.8L600.6 1381.0L602.1 1382.3L603.6 1383.6L605.1 1384.9L606.6 1386.2L608.1 1387.6L609.6 1389.1L611.1 1390.5L612.6 1392.0L614.1 1393.6L615.6 1395.1L617.1 1396.6L618.6 1398.2L620.1 1399.8L621.6 1401.3L623.1 1402.9L624.6 1404.5L626.1 1406.0L627.6 1407.5L629.1 1409.0L630.6 1410.5L632.1 1411.9L633.6 1413.3L635.1 1414.7L636.6 1416.0L638.1 1417.3L639.6 1418.5L641.1 1419.6L642.6 1420.8L644.1 1421.9L645.6 1422.9L647.1 1424.0L648.6 1425.0L650.1 1426.0L651.6 1427.0L653.1 1428.0L654.6 1429.0L656.1 1430.0L657.6 1431.0L659.1 1432.0L660.6 1433.0L662.1 1434.1L663.6 1435.2L665.1 1436.3L666.6 1437.5L668.1 1438.6L669.6 1439.8L671.1 1441.0L672.6 1442.1L674.1 1443.3L675.6 1444.5L677.1 1445.6L678.6 1446.8L680.1 1447.9L681.6 1449.0L683.1 1450.1L684.6 1451.1L686.1 1452.1L687.6 1453.0L689.1 1453.9L690.6 1454.8L692.1 1455.6L693.6 1456.4L695.1 1457.1L696.6 1457.8L698.1 1458.4L699.6 1459.1L701.1 1459.7L702.6 1460.2L704.1 1460.8L705.6 1461.3L707.1 1461.8L708.6 1462.3L710.1 1462.7L711.6 1463.2L713.1 1463.6L714.6 1464.0L716.1 1464.5L717.6 1464.9L719.1 1465.3L720.6 1465.7L722.1 1466.0L723.6 1466.4L725.1 1466.8L726.6 1467.2L728.1 1467.5L729.6 1467.9L731.1 1468.3L732.6 1468.6L734.1 1469.0L735.6 1469.3L737.1 1469.7L738.6 1470.0L740.1 1470.4L741.6 1470.8L743.1 1471.1L744.6 1471.5L746.1 1471.9L747.6 1472.2L749.1 1472.6L750.6 1473.0L752.1 1473.4L753.6 1473.8L755.1 1474.2L756.6 1474.6L758.1 1475.0L759.6 1475.5L760.1 1475.6" fill="none" stroke="#0a0a0a" stroke-width="1.95" stroke-linejoin="round"/>
<line x1="558.2" x2="558.2" y1="1376.6" y2="1476.9" stroke="#000" stroke-width="6.2"/>
<text class="it lb" x="566.9" y="1464.1" xml:space="preserve">35.8 cm</text>
<text class="ax" x="197" y="180.5" text-anchor="end">Port−St−Louis</text>
<text class="ax" x="197" y="366.9" text-anchor="end">Frontignan</text>
<text class="ax" x="197" y="553.3" text-anchor="end">Thau</text>
<text class="ax" x="197" y="739.8" text-anchor="end">Port Ambonne</text>
<text class="ax" x="197" y="926.2" text-anchor="end">Cap d'Agde</text>
<text class="ax" x="197" y="1112.7" text-anchor="end">Ayrolle</text>
<text class="ax" x="197" y="1299.1" text-anchor="end">Leucate</text>
<text class="ax" x="197" y="1485.5" text-anchor="end">Côte des Albères</text>
<text class="ax" x="256.7" y="1548.9" text-anchor="middle">0</text>
<text class="ax" x="425.2" y="1548.9" text-anchor="middle">20</text>
<text class="ax" x="593.6" y="1548.9" text-anchor="middle">40</text>
<text class="ax" x="762.1" y="1548.9" text-anchor="middle">60</text>
<text class="ax" x="930.5" y="1548.9" text-anchor="middle">80</text>
<text x="576.3" y="1584.1" text-anchor="middle" font-size="31.5px" fill="#000">Size (cm)</text>
</svg></body></html>
